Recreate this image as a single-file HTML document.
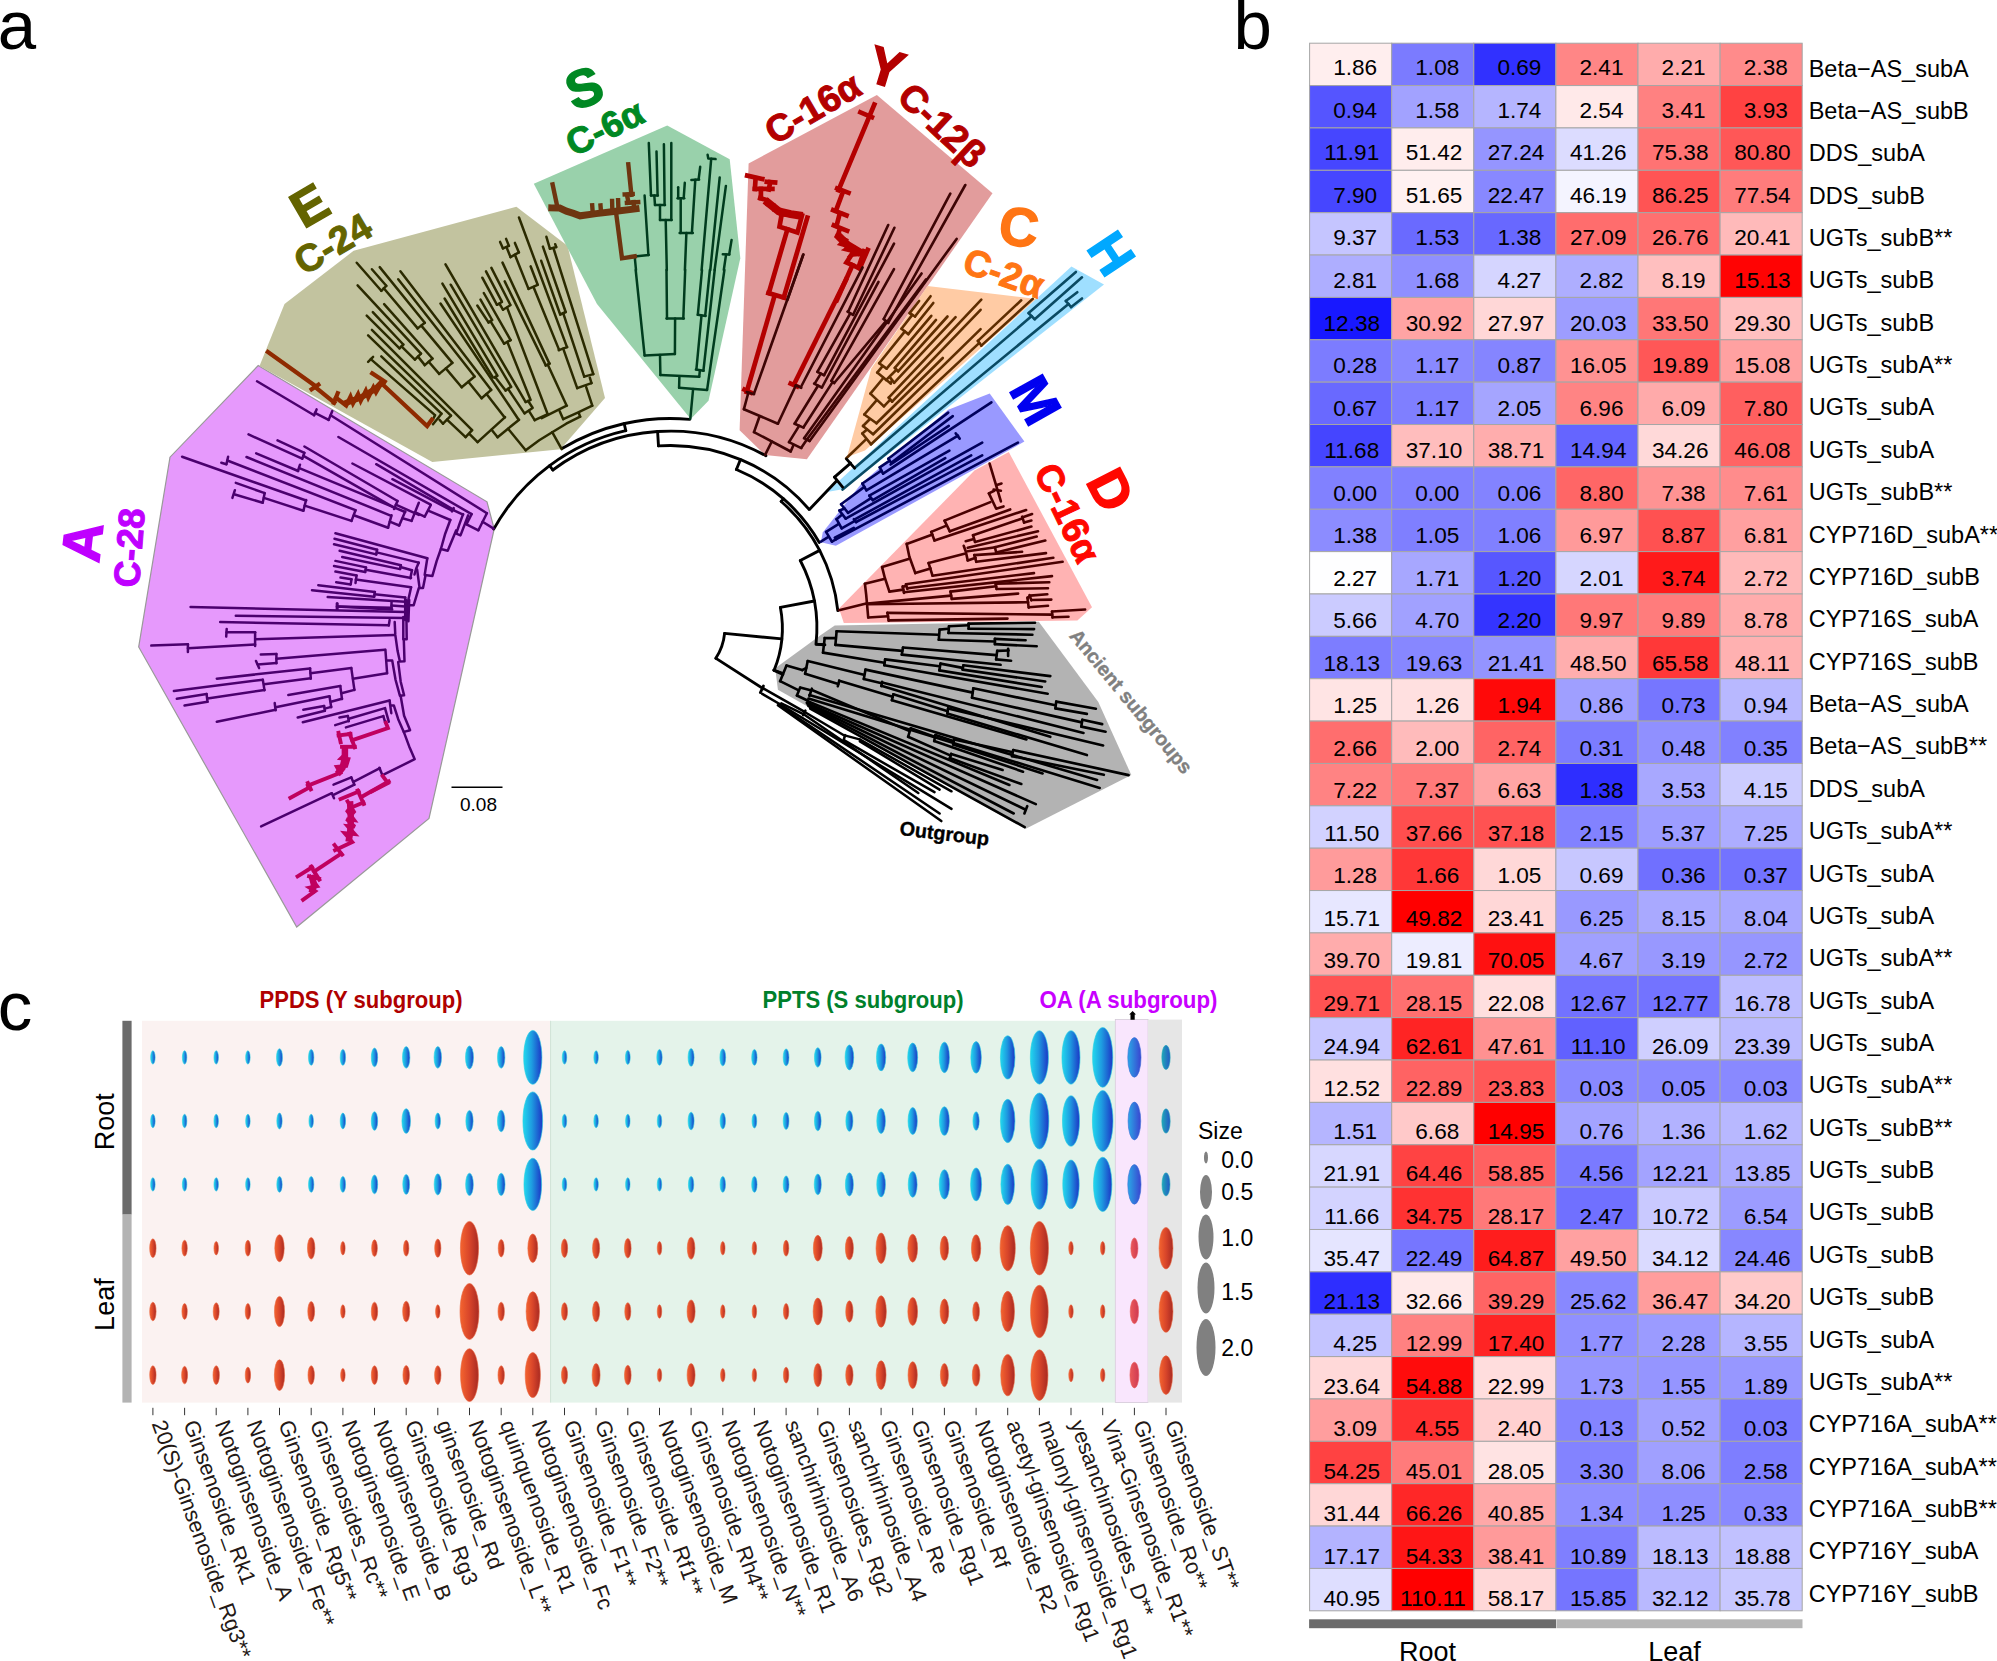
<!DOCTYPE html>
<html><head><meta charset="utf-8"><title>Figure</title>
<style>
html,body{margin:0;padding:0;background:#fff;}
svg{display:block;font-family:"Liberation Sans",sans-serif;}
</style></head><body>
<svg width="1997" height="1661" viewBox="0 0 1997 1661">
<rect width="1997" height="1661" fill="#ffffff"/>
<g id="heatmap">
<g stroke="#a6a6a6" stroke-width="1">
<rect x="1309.60" y="43.20" width="82.10" height="42.37" fill="#ffeeee"/>
<rect x="1391.70" y="43.20" width="82.10" height="42.37" fill="#7b7bff"/>
<rect x="1473.80" y="43.20" width="82.10" height="42.37" fill="#3131ff"/>
<rect x="1555.90" y="43.20" width="82.10" height="42.37" fill="#ff8686"/>
<rect x="1638.00" y="43.20" width="82.10" height="42.37" fill="#ffacac"/>
<rect x="1720.10" y="43.20" width="82.10" height="42.37" fill="#ff8b8b"/>
<rect x="1309.60" y="85.57" width="82.10" height="42.37" fill="#5555ff"/>
<rect x="1391.70" y="85.57" width="82.10" height="42.37" fill="#a2a2ff"/>
<rect x="1473.80" y="85.57" width="82.10" height="42.37" fill="#b5b5ff"/>
<rect x="1555.90" y="85.57" width="82.10" height="42.37" fill="#ffe9e9"/>
<rect x="1638.00" y="85.57" width="82.10" height="42.37" fill="#ff8181"/>
<rect x="1720.10" y="85.57" width="82.10" height="42.37" fill="#ff4242"/>
<rect x="1309.60" y="127.94" width="82.10" height="42.37" fill="#4646ff"/>
<rect x="1391.70" y="127.94" width="82.10" height="42.37" fill="#ffeded"/>
<rect x="1473.80" y="127.94" width="82.10" height="42.37" fill="#9595ff"/>
<rect x="1555.90" y="127.94" width="82.10" height="42.37" fill="#dcdcff"/>
<rect x="1638.00" y="127.94" width="82.10" height="42.37" fill="#ff7373"/>
<rect x="1720.10" y="127.94" width="82.10" height="42.37" fill="#ff5757"/>
<rect x="1309.60" y="170.30" width="82.10" height="42.37" fill="#4646ff"/>
<rect x="1391.70" y="170.30" width="82.10" height="42.37" fill="#fff1f1"/>
<rect x="1473.80" y="170.30" width="82.10" height="42.37" fill="#8888ff"/>
<rect x="1555.90" y="170.30" width="82.10" height="42.37" fill="#f4f4ff"/>
<rect x="1638.00" y="170.30" width="82.10" height="42.37" fill="#ff5454"/>
<rect x="1720.10" y="170.30" width="82.10" height="42.37" fill="#ff7c7c"/>
<rect x="1309.60" y="212.67" width="82.10" height="42.37" fill="#c5c5ff"/>
<rect x="1391.70" y="212.67" width="82.10" height="42.37" fill="#6a6aff"/>
<rect x="1473.80" y="212.67" width="82.10" height="42.37" fill="#6868ff"/>
<rect x="1555.90" y="212.67" width="82.10" height="42.37" fill="#ff6d6d"/>
<rect x="1638.00" y="212.67" width="82.10" height="42.37" fill="#ff7070"/>
<rect x="1720.10" y="212.67" width="82.10" height="42.37" fill="#ffbaba"/>
<rect x="1309.60" y="255.04" width="82.10" height="42.37" fill="#aeaeff"/>
<rect x="1391.70" y="255.04" width="82.10" height="42.37" fill="#8f8fff"/>
<rect x="1473.80" y="255.04" width="82.10" height="42.37" fill="#d5d5ff"/>
<rect x="1555.90" y="255.04" width="82.10" height="42.37" fill="#aeaeff"/>
<rect x="1638.00" y="255.04" width="82.10" height="42.37" fill="#ffbfbf"/>
<rect x="1720.10" y="255.04" width="82.10" height="42.37" fill="#ff0303"/>
<rect x="1309.60" y="297.41" width="82.10" height="42.37" fill="#1818ff"/>
<rect x="1391.70" y="297.41" width="82.10" height="42.37" fill="#ffa4a4"/>
<rect x="1473.80" y="297.41" width="82.10" height="42.37" fill="#ffd7d7"/>
<rect x="1555.90" y="297.41" width="82.10" height="42.37" fill="#9d9dff"/>
<rect x="1638.00" y="297.41" width="82.10" height="42.37" fill="#ff7777"/>
<rect x="1720.10" y="297.41" width="82.10" height="42.37" fill="#ffc0c0"/>
<rect x="1309.60" y="339.77" width="82.10" height="42.37" fill="#7c7cff"/>
<rect x="1391.70" y="339.77" width="82.10" height="42.37" fill="#8989ff"/>
<rect x="1473.80" y="339.77" width="82.10" height="42.37" fill="#8585ff"/>
<rect x="1555.90" y="339.77" width="82.10" height="42.37" fill="#ff9292"/>
<rect x="1638.00" y="339.77" width="82.10" height="42.37" fill="#ff5757"/>
<rect x="1720.10" y="339.77" width="82.10" height="42.37" fill="#ffa1a1"/>
<rect x="1309.60" y="382.14" width="82.10" height="42.37" fill="#6969ff"/>
<rect x="1391.70" y="382.14" width="82.10" height="42.37" fill="#7f7fff"/>
<rect x="1473.80" y="382.14" width="82.10" height="42.37" fill="#a5a5ff"/>
<rect x="1555.90" y="382.14" width="82.10" height="42.37" fill="#ff8484"/>
<rect x="1638.00" y="382.14" width="82.10" height="42.37" fill="#ffaaaa"/>
<rect x="1720.10" y="382.14" width="82.10" height="42.37" fill="#ff5f5f"/>
<rect x="1309.60" y="424.51" width="82.10" height="42.37" fill="#4545ff"/>
<rect x="1391.70" y="424.51" width="82.10" height="42.37" fill="#ffbdbd"/>
<rect x="1473.80" y="424.51" width="82.10" height="42.37" fill="#ffadad"/>
<rect x="1555.90" y="424.51" width="82.10" height="42.37" fill="#6565ff"/>
<rect x="1638.00" y="424.51" width="82.10" height="42.37" fill="#ffd9d9"/>
<rect x="1720.10" y="424.51" width="82.10" height="42.37" fill="#ff6464"/>
<rect x="1309.60" y="466.88" width="82.10" height="42.37" fill="#8181ff"/>
<rect x="1391.70" y="466.88" width="82.10" height="42.37" fill="#8181ff"/>
<rect x="1473.80" y="466.88" width="82.10" height="42.37" fill="#8383ff"/>
<rect x="1555.90" y="466.88" width="82.10" height="42.37" fill="#ff6666"/>
<rect x="1638.00" y="466.88" width="82.10" height="42.37" fill="#ff9393"/>
<rect x="1720.10" y="466.88" width="82.10" height="42.37" fill="#ff8c8c"/>
<rect x="1309.60" y="509.24" width="82.10" height="42.37" fill="#8c8cff"/>
<rect x="1391.70" y="509.24" width="82.10" height="42.37" fill="#7f7fff"/>
<rect x="1473.80" y="509.24" width="82.10" height="42.37" fill="#8080ff"/>
<rect x="1555.90" y="509.24" width="82.10" height="42.37" fill="#ff9a9a"/>
<rect x="1638.00" y="509.24" width="82.10" height="42.37" fill="#ff5151"/>
<rect x="1720.10" y="509.24" width="82.10" height="42.37" fill="#ffa0a0"/>
<rect x="1309.60" y="551.61" width="82.10" height="42.37" fill="#fefeff"/>
<rect x="1391.70" y="551.61" width="82.10" height="42.37" fill="#a7a7ff"/>
<rect x="1473.80" y="551.61" width="82.10" height="42.37" fill="#5757ff"/>
<rect x="1555.90" y="551.61" width="82.10" height="42.37" fill="#d6d6ff"/>
<rect x="1638.00" y="551.61" width="82.10" height="42.37" fill="#ff1a1a"/>
<rect x="1720.10" y="551.61" width="82.10" height="42.37" fill="#ffb9b9"/>
<rect x="1309.60" y="593.98" width="82.10" height="42.37" fill="#cbcbff"/>
<rect x="1391.70" y="593.98" width="82.10" height="42.37" fill="#a1a1ff"/>
<rect x="1473.80" y="593.98" width="82.10" height="42.37" fill="#3434ff"/>
<rect x="1555.90" y="593.98" width="82.10" height="42.37" fill="#ff7878"/>
<rect x="1638.00" y="593.98" width="82.10" height="42.37" fill="#ff7c7c"/>
<rect x="1720.10" y="593.98" width="82.10" height="42.37" fill="#ffacac"/>
<rect x="1309.60" y="636.35" width="82.10" height="42.37" fill="#7d7dff"/>
<rect x="1391.70" y="636.35" width="82.10" height="42.37" fill="#8787ff"/>
<rect x="1473.80" y="636.35" width="82.10" height="42.37" fill="#9494ff"/>
<rect x="1555.90" y="636.35" width="82.10" height="42.37" fill="#ffaeae"/>
<rect x="1638.00" y="636.35" width="82.10" height="42.37" fill="#ff3838"/>
<rect x="1720.10" y="636.35" width="82.10" height="42.37" fill="#ffb1b1"/>
<rect x="1309.60" y="678.71" width="82.10" height="42.37" fill="#ffe4e4"/>
<rect x="1391.70" y="678.71" width="82.10" height="42.37" fill="#ffe0e0"/>
<rect x="1473.80" y="678.71" width="82.10" height="42.37" fill="#ff0909"/>
<rect x="1555.90" y="678.71" width="82.10" height="42.37" fill="#9f9fff"/>
<rect x="1638.00" y="678.71" width="82.10" height="42.37" fill="#7676ff"/>
<rect x="1720.10" y="678.71" width="82.10" height="42.37" fill="#b8b8ff"/>
<rect x="1309.60" y="721.08" width="82.10" height="42.37" fill="#ff6e6e"/>
<rect x="1391.70" y="721.08" width="82.10" height="42.37" fill="#ffbbbb"/>
<rect x="1473.80" y="721.08" width="82.10" height="42.37" fill="#ff6464"/>
<rect x="1555.90" y="721.08" width="82.10" height="42.37" fill="#7c7cff"/>
<rect x="1638.00" y="721.08" width="82.10" height="42.37" fill="#9090ff"/>
<rect x="1720.10" y="721.08" width="82.10" height="42.37" fill="#8181ff"/>
<rect x="1309.60" y="763.45" width="82.10" height="42.37" fill="#ff8383"/>
<rect x="1391.70" y="763.45" width="82.10" height="42.37" fill="#ff7a7a"/>
<rect x="1473.80" y="763.45" width="82.10" height="42.37" fill="#ffa5a5"/>
<rect x="1555.90" y="763.45" width="82.10" height="42.37" fill="#2e2eff"/>
<rect x="1638.00" y="763.45" width="82.10" height="42.37" fill="#a8a8ff"/>
<rect x="1720.10" y="763.45" width="82.10" height="42.37" fill="#ccccff"/>
<rect x="1309.60" y="805.82" width="82.10" height="42.37" fill="#d2d2ff"/>
<rect x="1391.70" y="805.82" width="82.10" height="42.37" fill="#ff4e4e"/>
<rect x="1473.80" y="805.82" width="82.10" height="42.37" fill="#ff5252"/>
<rect x="1555.90" y="805.82" width="82.10" height="42.37" fill="#8282ff"/>
<rect x="1638.00" y="805.82" width="82.10" height="42.37" fill="#9d9dff"/>
<rect x="1720.10" y="805.82" width="82.10" height="42.37" fill="#adadff"/>
<rect x="1309.60" y="848.18" width="82.10" height="42.37" fill="#ff9b9b"/>
<rect x="1391.70" y="848.18" width="82.10" height="42.37" fill="#ff3737"/>
<rect x="1473.80" y="848.18" width="82.10" height="42.37" fill="#ffd8d8"/>
<rect x="1555.90" y="848.18" width="82.10" height="42.37" fill="#c7c7ff"/>
<rect x="1638.00" y="848.18" width="82.10" height="42.37" fill="#7070ff"/>
<rect x="1720.10" y="848.18" width="82.10" height="42.37" fill="#7373ff"/>
<rect x="1309.60" y="890.55" width="82.10" height="42.37" fill="#e7e7ff"/>
<rect x="1391.70" y="890.55" width="82.10" height="42.37" fill="#ff0000"/>
<rect x="1473.80" y="890.55" width="82.10" height="42.37" fill="#ffd7d7"/>
<rect x="1555.90" y="890.55" width="82.10" height="42.37" fill="#9999ff"/>
<rect x="1638.00" y="890.55" width="82.10" height="42.37" fill="#a9a9ff"/>
<rect x="1720.10" y="890.55" width="82.10" height="42.37" fill="#a8a8ff"/>
<rect x="1309.60" y="932.92" width="82.10" height="42.37" fill="#ffacac"/>
<rect x="1391.70" y="932.92" width="82.10" height="42.37" fill="#ededff"/>
<rect x="1473.80" y="932.92" width="82.10" height="42.37" fill="#ff1111"/>
<rect x="1555.90" y="932.92" width="82.10" height="42.37" fill="#a0a0ff"/>
<rect x="1638.00" y="932.92" width="82.10" height="42.37" fill="#9898ff"/>
<rect x="1720.10" y="932.92" width="82.10" height="42.37" fill="#9696ff"/>
<rect x="1309.60" y="975.29" width="82.10" height="42.37" fill="#ff5353"/>
<rect x="1391.70" y="975.29" width="82.10" height="42.37" fill="#ff7070"/>
<rect x="1473.80" y="975.29" width="82.10" height="42.37" fill="#ffdfdf"/>
<rect x="1555.90" y="975.29" width="82.10" height="42.37" fill="#7272ff"/>
<rect x="1638.00" y="975.29" width="82.10" height="42.37" fill="#7373ff"/>
<rect x="1720.10" y="975.29" width="82.10" height="42.37" fill="#bdbdff"/>
<rect x="1309.60" y="1017.65" width="82.10" height="42.37" fill="#c7c7ff"/>
<rect x="1391.70" y="1017.65" width="82.10" height="42.37" fill="#ff2424"/>
<rect x="1473.80" y="1017.65" width="82.10" height="42.37" fill="#ff9191"/>
<rect x="1555.90" y="1017.65" width="82.10" height="42.37" fill="#6161ff"/>
<rect x="1638.00" y="1017.65" width="82.10" height="42.37" fill="#cfcfff"/>
<rect x="1720.10" y="1017.65" width="82.10" height="42.37" fill="#bbbbff"/>
<rect x="1309.60" y="1060.02" width="82.10" height="42.37" fill="#ffe0e0"/>
<rect x="1391.70" y="1060.02" width="82.10" height="42.37" fill="#ff6363"/>
<rect x="1473.80" y="1060.02" width="82.10" height="42.37" fill="#ff5858"/>
<rect x="1555.90" y="1060.02" width="82.10" height="42.37" fill="#8989ff"/>
<rect x="1638.00" y="1060.02" width="82.10" height="42.37" fill="#8989ff"/>
<rect x="1720.10" y="1060.02" width="82.10" height="42.37" fill="#8989ff"/>
<rect x="1309.60" y="1102.39" width="82.10" height="42.37" fill="#b5b5ff"/>
<rect x="1391.70" y="1102.39" width="82.10" height="42.37" fill="#ffc9c9"/>
<rect x="1473.80" y="1102.39" width="82.10" height="42.37" fill="#ff0000"/>
<rect x="1555.90" y="1102.39" width="82.10" height="42.37" fill="#a3a3ff"/>
<rect x="1638.00" y="1102.39" width="82.10" height="42.37" fill="#b2b2ff"/>
<rect x="1720.10" y="1102.39" width="82.10" height="42.37" fill="#b8b8ff"/>
<rect x="1309.60" y="1144.76" width="82.10" height="42.37" fill="#d7d7ff"/>
<rect x="1391.70" y="1144.76" width="82.10" height="42.37" fill="#ff4343"/>
<rect x="1473.80" y="1144.76" width="82.10" height="42.37" fill="#ff6161"/>
<rect x="1555.90" y="1144.76" width="82.10" height="42.37" fill="#7a7aff"/>
<rect x="1638.00" y="1144.76" width="82.10" height="42.37" fill="#a3a3ff"/>
<rect x="1720.10" y="1144.76" width="82.10" height="42.37" fill="#acacff"/>
<rect x="1309.60" y="1187.12" width="82.10" height="42.37" fill="#d3d3ff"/>
<rect x="1391.70" y="1187.12" width="82.10" height="42.37" fill="#ff3232"/>
<rect x="1473.80" y="1187.12" width="82.10" height="42.37" fill="#ff7979"/>
<rect x="1555.90" y="1187.12" width="82.10" height="42.37" fill="#7070ff"/>
<rect x="1638.00" y="1187.12" width="82.10" height="42.37" fill="#c9c9ff"/>
<rect x="1720.10" y="1187.12" width="82.10" height="42.37" fill="#9c9cff"/>
<rect x="1309.60" y="1229.49" width="82.10" height="42.37" fill="#e5e5ff"/>
<rect x="1391.70" y="1229.49" width="82.10" height="42.37" fill="#7676ff"/>
<rect x="1473.80" y="1229.49" width="82.10" height="42.37" fill="#ff1d1d"/>
<rect x="1555.90" y="1229.49" width="82.10" height="42.37" fill="#ffa1a1"/>
<rect x="1638.00" y="1229.49" width="82.10" height="42.37" fill="#dadaff"/>
<rect x="1720.10" y="1229.49" width="82.10" height="42.37" fill="#8787ff"/>
<rect x="1309.60" y="1271.86" width="82.10" height="42.37" fill="#2e2eff"/>
<rect x="1391.70" y="1271.86" width="82.10" height="42.37" fill="#ffe9e9"/>
<rect x="1473.80" y="1271.86" width="82.10" height="42.37" fill="#ff6464"/>
<rect x="1555.90" y="1271.86" width="82.10" height="42.37" fill="#8888ff"/>
<rect x="1638.00" y="1271.86" width="82.10" height="42.37" fill="#ff9d9d"/>
<rect x="1720.10" y="1271.86" width="82.10" height="42.37" fill="#ffcaca"/>
<rect x="1309.60" y="1314.23" width="82.10" height="42.37" fill="#c4c4ff"/>
<rect x="1391.70" y="1314.23" width="82.10" height="42.37" fill="#ff8181"/>
<rect x="1473.80" y="1314.23" width="82.10" height="42.37" fill="#ff2424"/>
<rect x="1555.90" y="1314.23" width="82.10" height="42.37" fill="#9090ff"/>
<rect x="1638.00" y="1314.23" width="82.10" height="42.37" fill="#9b9bff"/>
<rect x="1720.10" y="1314.23" width="82.10" height="42.37" fill="#b5b5ff"/>
<rect x="1309.60" y="1356.59" width="82.10" height="42.37" fill="#ffd9d9"/>
<rect x="1391.70" y="1356.59" width="82.10" height="42.37" fill="#ff0c0c"/>
<rect x="1473.80" y="1356.59" width="82.10" height="42.37" fill="#ffdddd"/>
<rect x="1555.90" y="1356.59" width="82.10" height="42.37" fill="#9696ff"/>
<rect x="1638.00" y="1356.59" width="82.10" height="42.37" fill="#9595ff"/>
<rect x="1720.10" y="1356.59" width="82.10" height="42.37" fill="#9797ff"/>
<rect x="1309.60" y="1398.96" width="82.10" height="42.37" fill="#ff9e9e"/>
<rect x="1391.70" y="1398.96" width="82.10" height="42.37" fill="#ff3131"/>
<rect x="1473.80" y="1398.96" width="82.10" height="42.37" fill="#ffd1d1"/>
<rect x="1555.90" y="1398.96" width="82.10" height="42.37" fill="#8484ff"/>
<rect x="1638.00" y="1398.96" width="82.10" height="42.37" fill="#a1a1ff"/>
<rect x="1720.10" y="1398.96" width="82.10" height="42.37" fill="#7c7cff"/>
<rect x="1309.60" y="1441.33" width="82.10" height="42.37" fill="#ff4242"/>
<rect x="1391.70" y="1441.33" width="82.10" height="42.37" fill="#ff7b7b"/>
<rect x="1473.80" y="1441.33" width="82.10" height="42.37" fill="#ffe3e3"/>
<rect x="1555.90" y="1441.33" width="82.10" height="42.37" fill="#8383ff"/>
<rect x="1638.00" y="1441.33" width="82.10" height="42.37" fill="#a0a0ff"/>
<rect x="1720.10" y="1441.33" width="82.10" height="42.37" fill="#7e7eff"/>
<rect x="1309.60" y="1483.70" width="82.10" height="42.37" fill="#ffd7d7"/>
<rect x="1391.70" y="1483.70" width="82.10" height="42.37" fill="#ff2727"/>
<rect x="1473.80" y="1483.70" width="82.10" height="42.37" fill="#ffa8a8"/>
<rect x="1555.90" y="1483.70" width="82.10" height="42.37" fill="#8f8fff"/>
<rect x="1638.00" y="1483.70" width="82.10" height="42.37" fill="#8e8eff"/>
<rect x="1720.10" y="1483.70" width="82.10" height="42.37" fill="#8989ff"/>
<rect x="1309.60" y="1526.06" width="82.10" height="42.37" fill="#b3b3ff"/>
<rect x="1391.70" y="1526.06" width="82.10" height="42.37" fill="#ff1616"/>
<rect x="1473.80" y="1526.06" width="82.10" height="42.37" fill="#ff9a9a"/>
<rect x="1555.90" y="1526.06" width="82.10" height="42.37" fill="#7f7fff"/>
<rect x="1638.00" y="1526.06" width="82.10" height="42.37" fill="#bbbbff"/>
<rect x="1720.10" y="1526.06" width="82.10" height="42.37" fill="#c1c1ff"/>
<rect x="1309.60" y="1568.43" width="82.10" height="42.37" fill="#dedeff"/>
<rect x="1391.70" y="1568.43" width="82.10" height="42.37" fill="#ff0000"/>
<rect x="1473.80" y="1568.43" width="82.10" height="42.37" fill="#ffd8d8"/>
<rect x="1555.90" y="1568.43" width="82.10" height="42.37" fill="#7575ff"/>
<rect x="1638.00" y="1568.43" width="82.10" height="42.37" fill="#b9b9ff"/>
<rect x="1720.10" y="1568.43" width="82.10" height="42.37" fill="#c8c8ff"/>
</g>
<g font-size="22.6" text-anchor="middle" fill="#000">
<text x="1355.2" y="75.3">1.86</text>
<text x="1437.3" y="75.3">1.08</text>
<text x="1519.4" y="75.3">0.69</text>
<text x="1601.5" y="75.3">2.41</text>
<text x="1683.6" y="75.3">2.21</text>
<text x="1765.8" y="75.3">2.38</text>
<text x="1355.2" y="117.8">0.94</text>
<text x="1437.3" y="117.8">1.58</text>
<text x="1519.4" y="117.8">1.74</text>
<text x="1601.5" y="117.8">2.54</text>
<text x="1683.6" y="117.8">3.41</text>
<text x="1765.8" y="117.8">3.93</text>
<text x="1351.8" y="160.4">11.91</text>
<text x="1434.0" y="160.4">51.42</text>
<text x="1516.0" y="160.4">27.24</text>
<text x="1598.2" y="160.4">41.26</text>
<text x="1680.2" y="160.4">75.38</text>
<text x="1762.4" y="160.4">80.80</text>
<text x="1355.2" y="202.9">7.90</text>
<text x="1434.0" y="202.9">51.65</text>
<text x="1516.0" y="202.9">22.47</text>
<text x="1598.2" y="202.9">46.19</text>
<text x="1680.2" y="202.9">86.25</text>
<text x="1762.4" y="202.9">77.54</text>
<text x="1355.2" y="245.4">9.37</text>
<text x="1437.3" y="245.4">1.53</text>
<text x="1519.4" y="245.4">1.38</text>
<text x="1598.2" y="245.4">27.09</text>
<text x="1680.2" y="245.4">26.76</text>
<text x="1762.4" y="245.4">20.41</text>
<text x="1355.2" y="287.9">2.81</text>
<text x="1437.3" y="287.9">1.68</text>
<text x="1519.4" y="287.9">4.27</text>
<text x="1601.5" y="287.9">2.82</text>
<text x="1683.6" y="287.9">8.19</text>
<text x="1762.4" y="287.9">15.13</text>
<text x="1351.8" y="330.5">12.38</text>
<text x="1434.0" y="330.5">30.92</text>
<text x="1516.0" y="330.5">27.97</text>
<text x="1598.2" y="330.5">20.03</text>
<text x="1680.2" y="330.5">33.50</text>
<text x="1762.4" y="330.5">29.30</text>
<text x="1355.2" y="373.0">0.28</text>
<text x="1437.3" y="373.0">1.17</text>
<text x="1519.4" y="373.0">0.87</text>
<text x="1598.2" y="373.0">16.05</text>
<text x="1680.2" y="373.0">19.89</text>
<text x="1762.4" y="373.0">15.08</text>
<text x="1355.2" y="415.5">0.67</text>
<text x="1437.3" y="415.5">1.17</text>
<text x="1519.4" y="415.5">2.05</text>
<text x="1601.5" y="415.5">6.96</text>
<text x="1683.6" y="415.5">6.09</text>
<text x="1765.8" y="415.5">7.80</text>
<text x="1351.8" y="458.1">11.68</text>
<text x="1434.0" y="458.1">37.10</text>
<text x="1516.0" y="458.1">38.71</text>
<text x="1598.2" y="458.1">14.94</text>
<text x="1680.2" y="458.1">34.26</text>
<text x="1762.4" y="458.1">46.08</text>
<text x="1355.2" y="500.6">0.00</text>
<text x="1437.3" y="500.6">0.00</text>
<text x="1519.4" y="500.6">0.06</text>
<text x="1601.5" y="500.6">8.80</text>
<text x="1683.6" y="500.6">7.38</text>
<text x="1765.8" y="500.6">7.61</text>
<text x="1355.2" y="543.1">1.38</text>
<text x="1437.3" y="543.1">1.05</text>
<text x="1519.4" y="543.1">1.06</text>
<text x="1601.5" y="543.1">6.97</text>
<text x="1683.6" y="543.1">8.87</text>
<text x="1765.8" y="543.1">6.81</text>
<text x="1355.2" y="585.7">2.27</text>
<text x="1437.3" y="585.7">1.71</text>
<text x="1519.4" y="585.7">1.20</text>
<text x="1601.5" y="585.7">2.01</text>
<text x="1683.6" y="585.7">3.74</text>
<text x="1765.8" y="585.7">2.72</text>
<text x="1355.2" y="628.2">5.66</text>
<text x="1437.3" y="628.2">4.70</text>
<text x="1519.4" y="628.2">2.20</text>
<text x="1601.5" y="628.2">9.97</text>
<text x="1683.6" y="628.2">9.89</text>
<text x="1765.8" y="628.2">8.78</text>
<text x="1351.8" y="670.7">18.13</text>
<text x="1434.0" y="670.7">19.63</text>
<text x="1516.0" y="670.7">21.41</text>
<text x="1598.2" y="670.7">48.50</text>
<text x="1680.2" y="670.7">65.58</text>
<text x="1762.4" y="670.7">48.11</text>
<text x="1355.2" y="713.2">1.25</text>
<text x="1437.3" y="713.2">1.26</text>
<text x="1519.4" y="713.2">1.94</text>
<text x="1601.5" y="713.2">0.86</text>
<text x="1683.6" y="713.2">0.73</text>
<text x="1765.8" y="713.2">0.94</text>
<text x="1355.2" y="755.8">2.66</text>
<text x="1437.3" y="755.8">2.00</text>
<text x="1519.4" y="755.8">2.74</text>
<text x="1601.5" y="755.8">0.31</text>
<text x="1683.6" y="755.8">0.48</text>
<text x="1765.8" y="755.8">0.35</text>
<text x="1355.2" y="798.3">7.22</text>
<text x="1437.3" y="798.3">7.37</text>
<text x="1519.4" y="798.3">6.63</text>
<text x="1601.5" y="798.3">1.38</text>
<text x="1683.6" y="798.3">3.53</text>
<text x="1765.8" y="798.3">4.15</text>
<text x="1351.8" y="840.8">11.50</text>
<text x="1434.0" y="840.8">37.66</text>
<text x="1516.0" y="840.8">37.18</text>
<text x="1601.5" y="840.8">2.15</text>
<text x="1683.6" y="840.8">5.37</text>
<text x="1765.8" y="840.8">7.25</text>
<text x="1355.2" y="883.4">1.28</text>
<text x="1437.3" y="883.4">1.66</text>
<text x="1519.4" y="883.4">1.05</text>
<text x="1601.5" y="883.4">0.69</text>
<text x="1683.6" y="883.4">0.36</text>
<text x="1765.8" y="883.4">0.37</text>
<text x="1351.8" y="925.9">15.71</text>
<text x="1434.0" y="925.9">49.82</text>
<text x="1516.0" y="925.9">23.41</text>
<text x="1601.5" y="925.9">6.25</text>
<text x="1683.6" y="925.9">8.15</text>
<text x="1765.8" y="925.9">8.04</text>
<text x="1351.8" y="968.4">39.70</text>
<text x="1434.0" y="968.4">19.81</text>
<text x="1516.0" y="968.4">70.05</text>
<text x="1601.5" y="968.4">4.67</text>
<text x="1683.6" y="968.4">3.19</text>
<text x="1765.8" y="968.4">2.72</text>
<text x="1351.8" y="1011.0">29.71</text>
<text x="1434.0" y="1011.0">28.15</text>
<text x="1516.0" y="1011.0">22.08</text>
<text x="1598.2" y="1011.0">12.67</text>
<text x="1680.2" y="1011.0">12.77</text>
<text x="1762.4" y="1011.0">16.78</text>
<text x="1351.8" y="1053.5">24.94</text>
<text x="1434.0" y="1053.5">62.61</text>
<text x="1516.0" y="1053.5">47.61</text>
<text x="1598.2" y="1053.5">11.10</text>
<text x="1680.2" y="1053.5">26.09</text>
<text x="1762.4" y="1053.5">23.39</text>
<text x="1351.8" y="1096.0">12.52</text>
<text x="1434.0" y="1096.0">22.89</text>
<text x="1516.0" y="1096.0">23.83</text>
<text x="1601.5" y="1096.0">0.03</text>
<text x="1683.6" y="1096.0">0.05</text>
<text x="1765.8" y="1096.0">0.03</text>
<text x="1355.2" y="1138.5">1.51</text>
<text x="1437.3" y="1138.5">6.68</text>
<text x="1516.0" y="1138.5">14.95</text>
<text x="1601.5" y="1138.5">0.76</text>
<text x="1683.6" y="1138.5">1.36</text>
<text x="1765.8" y="1138.5">1.62</text>
<text x="1351.8" y="1181.1">21.91</text>
<text x="1434.0" y="1181.1">64.46</text>
<text x="1516.0" y="1181.1">58.85</text>
<text x="1601.5" y="1181.1">4.56</text>
<text x="1680.2" y="1181.1">12.21</text>
<text x="1762.4" y="1181.1">13.85</text>
<text x="1351.8" y="1223.6">11.66</text>
<text x="1434.0" y="1223.6">34.75</text>
<text x="1516.0" y="1223.6">28.17</text>
<text x="1601.5" y="1223.6">2.47</text>
<text x="1680.2" y="1223.6">10.72</text>
<text x="1765.8" y="1223.6">6.54</text>
<text x="1351.8" y="1266.1">35.47</text>
<text x="1434.0" y="1266.1">22.49</text>
<text x="1516.0" y="1266.1">64.87</text>
<text x="1598.2" y="1266.1">49.50</text>
<text x="1680.2" y="1266.1">34.12</text>
<text x="1762.4" y="1266.1">24.46</text>
<text x="1351.8" y="1308.7">21.13</text>
<text x="1434.0" y="1308.7">32.66</text>
<text x="1516.0" y="1308.7">39.29</text>
<text x="1598.2" y="1308.7">25.62</text>
<text x="1680.2" y="1308.7">36.47</text>
<text x="1762.4" y="1308.7">34.20</text>
<text x="1355.2" y="1351.2">4.25</text>
<text x="1434.0" y="1351.2">12.99</text>
<text x="1516.0" y="1351.2">17.40</text>
<text x="1601.5" y="1351.2">1.77</text>
<text x="1683.6" y="1351.2">2.28</text>
<text x="1765.8" y="1351.2">3.55</text>
<text x="1351.8" y="1393.7">23.64</text>
<text x="1434.0" y="1393.7">54.88</text>
<text x="1516.0" y="1393.7">22.99</text>
<text x="1601.5" y="1393.7">1.73</text>
<text x="1683.6" y="1393.7">1.55</text>
<text x="1765.8" y="1393.7">1.89</text>
<text x="1355.2" y="1436.3">3.09</text>
<text x="1437.3" y="1436.3">4.55</text>
<text x="1519.4" y="1436.3">2.40</text>
<text x="1601.5" y="1436.3">0.13</text>
<text x="1683.6" y="1436.3">0.52</text>
<text x="1765.8" y="1436.3">0.03</text>
<text x="1351.8" y="1478.8">54.25</text>
<text x="1434.0" y="1478.8">45.01</text>
<text x="1516.0" y="1478.8">28.05</text>
<text x="1601.5" y="1478.8">3.30</text>
<text x="1683.6" y="1478.8">8.06</text>
<text x="1765.8" y="1478.8">2.58</text>
<text x="1351.8" y="1521.3">31.44</text>
<text x="1434.0" y="1521.3">66.26</text>
<text x="1516.0" y="1521.3">40.85</text>
<text x="1601.5" y="1521.3">1.34</text>
<text x="1683.6" y="1521.3">1.25</text>
<text x="1765.8" y="1521.3">0.33</text>
<text x="1351.8" y="1563.8">17.17</text>
<text x="1434.0" y="1563.8">54.33</text>
<text x="1516.0" y="1563.8">38.41</text>
<text x="1598.2" y="1563.8">10.89</text>
<text x="1680.2" y="1563.8">18.13</text>
<text x="1762.4" y="1563.8">18.88</text>
<text x="1351.8" y="1606.4">40.95</text>
<text x="1433.0" y="1606.4">110.11</text>
<text x="1516.0" y="1606.4">58.17</text>
<text x="1598.2" y="1606.4">15.85</text>
<text x="1680.2" y="1606.4">32.12</text>
<text x="1762.4" y="1606.4">35.78</text>
</g>
<g font-size="23.5" fill="#000">
<text x="1808.7" y="76.5">Beta−AS_subA</text>
<text x="1808.7" y="118.9">Beta−AS_subB</text>
<text x="1808.7" y="161.2">DDS_subA</text>
<text x="1808.7" y="203.6">DDS_subB</text>
<text x="1808.7" y="246.0">UGTs_subB**</text>
<text x="1808.7" y="288.3">UGTs_subB</text>
<text x="1808.7" y="330.7">UGTs_subB</text>
<text x="1808.7" y="373.1">UGTs_subA**</text>
<text x="1808.7" y="415.4">UGTs_subA</text>
<text x="1808.7" y="457.8">UGTs_subA</text>
<text x="1808.7" y="500.2">UGTs_subB**</text>
<text x="1808.7" y="542.5">CYP716D_subA**</text>
<text x="1808.7" y="584.9">CYP716D_subB</text>
<text x="1808.7" y="627.3">CYP716S_subA</text>
<text x="1808.7" y="669.6">CYP716S_subB</text>
<text x="1808.7" y="712.0">Beta−AS_subA</text>
<text x="1808.7" y="754.4">Beta−AS_subB**</text>
<text x="1808.7" y="796.7">DDS_subA</text>
<text x="1808.7" y="839.1">UGTs_subA**</text>
<text x="1808.7" y="881.5">UGTs_subA</text>
<text x="1808.7" y="923.8">UGTs_subA</text>
<text x="1808.7" y="966.2">UGTs_subA**</text>
<text x="1808.7" y="1008.6">UGTs_subA</text>
<text x="1808.7" y="1050.9">UGTs_subA</text>
<text x="1808.7" y="1093.3">UGTs_subA**</text>
<text x="1808.7" y="1135.7">UGTs_subB**</text>
<text x="1808.7" y="1178.0">UGTs_subB</text>
<text x="1808.7" y="1220.4">UGTs_subB</text>
<text x="1808.7" y="1262.8">UGTs_subB</text>
<text x="1808.7" y="1305.1">UGTs_subB</text>
<text x="1808.7" y="1347.5">UGTs_subA</text>
<text x="1808.7" y="1389.9">UGTs_subA**</text>
<text x="1808.7" y="1432.2">CYP716A_subA**</text>
<text x="1808.7" y="1474.6">CYP716A_subA**</text>
<text x="1808.7" y="1517.0">CYP716A_subB**</text>
<text x="1808.7" y="1559.3">CYP716Y_subA</text>
<text x="1808.7" y="1601.7">CYP716Y_subB</text>
</g>
<rect x="1309.1" y="1619.3" width="247.1" height="8.9" fill="#6b6b6b"/>
<rect x="1556.7" y="1619.3" width="245.8" height="8.9" fill="#b5b5b5"/>
<text x="1427.6" y="1660.6" font-size="27" text-anchor="middle">Root</text>
<text x="1674.5" y="1660.6" font-size="27" text-anchor="middle">Leaf</text>
</g>
<defs>
<linearGradient id="gb" x1="0" x2="1" y1="0" y2="0"><stop offset="0" stop-color="#22d8ee"/><stop offset="0.45" stop-color="#1e9be0"/><stop offset="1" stop-color="#1c36c6"/></linearGradient>
<linearGradient id="gr" x1="0" x2="1" y1="0" y2="0"><stop offset="0" stop-color="#f4642f"/><stop offset="0.5" stop-color="#d8452a"/><stop offset="1" stop-color="#a82a22"/></linearGradient>
<linearGradient id="gp" x1="0" x2="1" y1="0" y2="0"><stop offset="0" stop-color="#2aa8e6"/><stop offset="1" stop-color="#3a44d0"/></linearGradient>
<linearGradient id="gt" x1="0" x2="1" y1="0" y2="0"><stop offset="0" stop-color="#1fa8b8"/><stop offset="1" stop-color="#2458c4"/></linearGradient>
<linearGradient id="gq" x1="0" x2="1" y1="0" y2="0"><stop offset="0" stop-color="#ea5a5a"/><stop offset="1" stop-color="#d03a52"/></linearGradient>
</defs>
<g id="bubble">
<rect x="122.4" y="1020.8" width="9.2" height="193.8" fill="#6b6b6b"/>
<rect x="122.4" y="1214.6" width="9.2" height="188.0" fill="#b3b3b3"/>
<rect x="142" y="1020.8" width="408.6" height="381.8" fill="#fbf2f1"/>
<rect x="550.6" y="1020.8" width="564.4" height="381.8" fill="#e4f3ea"/>
<rect x="1115.3" y="1019.6" width="32.8" height="383.0" fill="#f9e6fd" stroke="#d4cad8" stroke-width="0.8"/>
<rect x="1148.1" y="1019.6" width="33.9" height="383.0" fill="#e6e6e6"/>
<line x1="550.6" x2="550.6" y1="1020.8" y2="1402.6" stroke="#cfe3d6" stroke-width="1"/>
<clipPath id="cp"><rect x="142" y="1020.8" width="1040" height="381.8"/></clipPath><g clip-path="url(#cp)">
<ellipse cx="152.9" cy="1057.4" rx="2.21" ry="6.68" fill="url(#gb)" stroke="#22cfe0" stroke-width="0.6"/>
<ellipse cx="184.6" cy="1057.4" rx="2.21" ry="6.68" fill="url(#gb)" stroke="#22cfe0" stroke-width="0.6"/>
<ellipse cx="216.2" cy="1057.4" rx="2.21" ry="6.68" fill="url(#gb)" stroke="#22cfe0" stroke-width="0.6"/>
<ellipse cx="247.9" cy="1057.4" rx="2.21" ry="6.68" fill="url(#gb)" stroke="#22cfe0" stroke-width="0.6"/>
<ellipse cx="279.5" cy="1057.4" rx="2.95" ry="8.73" fill="url(#gb)" stroke="#22cfe0" stroke-width="0.6"/>
<ellipse cx="311.2" cy="1057.4" rx="2.65" ry="7.89" fill="url(#gb)" stroke="#22cfe0" stroke-width="0.6"/>
<ellipse cx="342.9" cy="1057.4" rx="2.65" ry="7.89" fill="url(#gb)" stroke="#22cfe0" stroke-width="0.6"/>
<ellipse cx="374.5" cy="1057.4" rx="3.17" ry="9.33" fill="url(#gb)" stroke="#22cfe0" stroke-width="0.6"/>
<ellipse cx="406.2" cy="1057.4" rx="3.69" ry="10.78" fill="url(#gb)" stroke="#22cfe0" stroke-width="0.6"/>
<ellipse cx="437.8" cy="1057.4" rx="3.69" ry="10.78" fill="url(#gb)" stroke="#22cfe0" stroke-width="0.6"/>
<ellipse cx="469.5" cy="1057.4" rx="3.95" ry="11.50" fill="url(#gb)" stroke="#22cfe0" stroke-width="0.6"/>
<ellipse cx="501.2" cy="1057.4" rx="3.69" ry="10.78" fill="url(#gb)" stroke="#22cfe0" stroke-width="0.6"/>
<ellipse cx="532.8" cy="1057.4" rx="9.11" ry="26.97" fill="url(#gb)" stroke="#22cfe0" stroke-width="0.6"/>
<ellipse cx="564.5" cy="1057.4" rx="2.20" ry="6.65" fill="url(#gb)" stroke="#22cfe0" stroke-width="0.6"/>
<ellipse cx="596.1" cy="1057.4" rx="2.20" ry="6.65" fill="url(#gb)" stroke="#22cfe0" stroke-width="0.6"/>
<ellipse cx="627.8" cy="1057.4" rx="2.33" ry="7.01" fill="url(#gb)" stroke="#22cfe0" stroke-width="0.6"/>
<ellipse cx="659.5" cy="1057.4" rx="2.66" ry="7.92" fill="url(#gb)" stroke="#22cfe0" stroke-width="0.6"/>
<ellipse cx="691.1" cy="1057.4" rx="2.99" ry="8.84" fill="url(#gb)" stroke="#22cfe0" stroke-width="0.6"/>
<ellipse cx="722.8" cy="1057.4" rx="2.86" ry="8.47" fill="url(#gb)" stroke="#22cfe0" stroke-width="0.6"/>
<ellipse cx="754.4" cy="1057.4" rx="2.66" ry="7.92" fill="url(#gb)" stroke="#22cfe0" stroke-width="0.6"/>
<ellipse cx="786.1" cy="1057.4" rx="2.86" ry="8.47" fill="url(#gb)" stroke="#22cfe0" stroke-width="0.6"/>
<ellipse cx="817.8" cy="1057.4" rx="3.32" ry="9.75" fill="url(#gb)" stroke="#22cfe0" stroke-width="0.6"/>
<ellipse cx="849.4" cy="1057.4" rx="4.31" ry="12.49" fill="url(#gb)" stroke="#22cfe0" stroke-width="0.6"/>
<ellipse cx="881.1" cy="1057.4" rx="4.63" ry="13.41" fill="url(#gb)" stroke="#22cfe0" stroke-width="0.6"/>
<ellipse cx="912.7" cy="1057.4" rx="4.96" ry="14.32" fill="url(#gb)" stroke="#22cfe0" stroke-width="0.6"/>
<ellipse cx="944.4" cy="1057.4" rx="5.06" ry="15.24" fill="url(#gb)" stroke="#22cfe0" stroke-width="0.6"/>
<ellipse cx="976.1" cy="1057.4" rx="5.25" ry="15.78" fill="url(#gb)" stroke="#22cfe0" stroke-width="0.6"/>
<ellipse cx="1007.7" cy="1057.4" rx="7.27" ry="21.63" fill="url(#gb)" stroke="#22cfe0" stroke-width="0.6"/>
<ellipse cx="1039.4" cy="1057.4" rx="9.03" ry="26.75" fill="url(#gb)" stroke="#22cfe0" stroke-width="0.6"/>
<ellipse cx="1071.0" cy="1057.4" rx="9.03" ry="26.75" fill="url(#gb)" stroke="#22cfe0" stroke-width="0.6"/>
<ellipse cx="1102.7" cy="1057.4" rx="10.10" ry="29.86" fill="url(#gb)" stroke="#22cfe0" stroke-width="0.6"/>
<ellipse cx="1134.4" cy="1057.4" rx="6.64" ry="19.81" fill="url(#gp)" stroke="#3a6fd8" stroke-width="0.6"/>
<ellipse cx="1166.0" cy="1057.4" rx="4.17" ry="12.13" fill="url(#gt)" stroke="#1fa8b8" stroke-width="0.6"/>
<ellipse cx="152.9" cy="1121.0" rx="2.21" ry="6.68" fill="url(#gb)" stroke="#22cfe0" stroke-width="0.6"/>
<ellipse cx="184.6" cy="1121.0" rx="2.21" ry="6.68" fill="url(#gb)" stroke="#22cfe0" stroke-width="0.6"/>
<ellipse cx="216.2" cy="1121.0" rx="2.21" ry="6.68" fill="url(#gb)" stroke="#22cfe0" stroke-width="0.6"/>
<ellipse cx="247.9" cy="1121.0" rx="2.21" ry="6.68" fill="url(#gb)" stroke="#22cfe0" stroke-width="0.6"/>
<ellipse cx="279.5" cy="1121.0" rx="2.65" ry="7.89" fill="url(#gb)" stroke="#22cfe0" stroke-width="0.6"/>
<ellipse cx="311.2" cy="1121.0" rx="2.21" ry="6.68" fill="url(#gb)" stroke="#22cfe0" stroke-width="0.6"/>
<ellipse cx="342.9" cy="1121.0" rx="2.65" ry="7.89" fill="url(#gb)" stroke="#22cfe0" stroke-width="0.6"/>
<ellipse cx="374.5" cy="1121.0" rx="3.17" ry="9.33" fill="url(#gb)" stroke="#22cfe0" stroke-width="0.6"/>
<ellipse cx="406.2" cy="1121.0" rx="4.25" ry="12.34" fill="url(#gb)" stroke="#22cfe0" stroke-width="0.6"/>
<ellipse cx="437.8" cy="1121.0" rx="2.65" ry="7.89" fill="url(#gb)" stroke="#22cfe0" stroke-width="0.6"/>
<ellipse cx="469.5" cy="1121.0" rx="3.60" ry="10.54" fill="url(#gb)" stroke="#22cfe0" stroke-width="0.6"/>
<ellipse cx="501.2" cy="1121.0" rx="3.69" ry="10.78" fill="url(#gb)" stroke="#22cfe0" stroke-width="0.6"/>
<ellipse cx="532.8" cy="1121.0" rx="9.85" ry="29.11" fill="url(#gb)" stroke="#22cfe0" stroke-width="0.6"/>
<ellipse cx="564.5" cy="1121.0" rx="2.20" ry="6.65" fill="url(#gb)" stroke="#22cfe0" stroke-width="0.6"/>
<ellipse cx="596.1" cy="1121.0" rx="2.20" ry="6.65" fill="url(#gb)" stroke="#22cfe0" stroke-width="0.6"/>
<ellipse cx="627.8" cy="1121.0" rx="2.20" ry="6.65" fill="url(#gb)" stroke="#22cfe0" stroke-width="0.6"/>
<ellipse cx="659.5" cy="1121.0" rx="2.20" ry="6.65" fill="url(#gb)" stroke="#22cfe0" stroke-width="0.6"/>
<ellipse cx="691.1" cy="1121.0" rx="2.99" ry="8.84" fill="url(#gb)" stroke="#22cfe0" stroke-width="0.6"/>
<ellipse cx="722.8" cy="1121.0" rx="2.66" ry="7.92" fill="url(#gb)" stroke="#22cfe0" stroke-width="0.6"/>
<ellipse cx="754.4" cy="1121.0" rx="2.33" ry="7.01" fill="url(#gb)" stroke="#22cfe0" stroke-width="0.6"/>
<ellipse cx="786.1" cy="1121.0" rx="2.86" ry="8.47" fill="url(#gb)" stroke="#22cfe0" stroke-width="0.6"/>
<ellipse cx="817.8" cy="1121.0" rx="3.32" ry="9.75" fill="url(#gb)" stroke="#22cfe0" stroke-width="0.6"/>
<ellipse cx="849.4" cy="1121.0" rx="3.52" ry="10.30" fill="url(#gb)" stroke="#22cfe0" stroke-width="0.6"/>
<ellipse cx="881.1" cy="1121.0" rx="4.31" ry="12.49" fill="url(#gb)" stroke="#22cfe0" stroke-width="0.6"/>
<ellipse cx="912.7" cy="1121.0" rx="4.63" ry="13.41" fill="url(#gb)" stroke="#22cfe0" stroke-width="0.6"/>
<ellipse cx="944.4" cy="1121.0" rx="4.96" ry="14.32" fill="url(#gb)" stroke="#22cfe0" stroke-width="0.6"/>
<ellipse cx="976.1" cy="1121.0" rx="3.12" ry="9.20" fill="url(#gb)" stroke="#22cfe0" stroke-width="0.6"/>
<ellipse cx="1007.7" cy="1121.0" rx="7.27" ry="21.63" fill="url(#gb)" stroke="#22cfe0" stroke-width="0.6"/>
<ellipse cx="1039.4" cy="1121.0" rx="9.47" ry="28.03" fill="url(#gb)" stroke="#22cfe0" stroke-width="0.6"/>
<ellipse cx="1071.0" cy="1121.0" rx="8.53" ry="25.29" fill="url(#gb)" stroke="#22cfe0" stroke-width="0.6"/>
<ellipse cx="1102.7" cy="1121.0" rx="10.29" ry="30.41" fill="url(#gb)" stroke="#22cfe0" stroke-width="0.6"/>
<ellipse cx="1134.4" cy="1121.0" rx="6.32" ry="18.89" fill="url(#gp)" stroke="#3a6fd8" stroke-width="0.6"/>
<ellipse cx="1166.0" cy="1121.0" rx="4.17" ry="12.13" fill="url(#gt)" stroke="#1fa8b8" stroke-width="0.6"/>
<ellipse cx="152.9" cy="1184.4" rx="2.21" ry="6.68" fill="url(#gb)" stroke="#22cfe0" stroke-width="0.6"/>
<ellipse cx="184.6" cy="1184.4" rx="2.21" ry="6.68" fill="url(#gb)" stroke="#22cfe0" stroke-width="0.6"/>
<ellipse cx="216.2" cy="1184.4" rx="2.21" ry="6.68" fill="url(#gb)" stroke="#22cfe0" stroke-width="0.6"/>
<ellipse cx="247.9" cy="1184.4" rx="2.21" ry="6.68" fill="url(#gb)" stroke="#22cfe0" stroke-width="0.6"/>
<ellipse cx="279.5" cy="1184.4" rx="2.65" ry="7.89" fill="url(#gb)" stroke="#22cfe0" stroke-width="0.6"/>
<ellipse cx="311.2" cy="1184.4" rx="2.65" ry="7.89" fill="url(#gb)" stroke="#22cfe0" stroke-width="0.6"/>
<ellipse cx="342.9" cy="1184.4" rx="2.65" ry="7.89" fill="url(#gb)" stroke="#22cfe0" stroke-width="0.6"/>
<ellipse cx="374.5" cy="1184.4" rx="3.17" ry="9.33" fill="url(#gb)" stroke="#22cfe0" stroke-width="0.6"/>
<ellipse cx="406.2" cy="1184.4" rx="3.38" ry="9.93" fill="url(#gb)" stroke="#22cfe0" stroke-width="0.6"/>
<ellipse cx="437.8" cy="1184.4" rx="3.60" ry="10.54" fill="url(#gb)" stroke="#22cfe0" stroke-width="0.6"/>
<ellipse cx="469.5" cy="1184.4" rx="3.82" ry="11.14" fill="url(#gb)" stroke="#22cfe0" stroke-width="0.6"/>
<ellipse cx="501.2" cy="1184.4" rx="3.82" ry="11.14" fill="url(#gb)" stroke="#22cfe0" stroke-width="0.6"/>
<ellipse cx="532.8" cy="1184.4" rx="8.82" ry="26.14" fill="url(#gb)" stroke="#22cfe0" stroke-width="0.6"/>
<ellipse cx="564.5" cy="1184.4" rx="2.20" ry="6.65" fill="url(#gb)" stroke="#22cfe0" stroke-width="0.6"/>
<ellipse cx="596.1" cy="1184.4" rx="2.20" ry="6.65" fill="url(#gb)" stroke="#22cfe0" stroke-width="0.6"/>
<ellipse cx="627.8" cy="1184.4" rx="2.20" ry="6.65" fill="url(#gb)" stroke="#22cfe0" stroke-width="0.6"/>
<ellipse cx="659.5" cy="1184.4" rx="2.20" ry="6.65" fill="url(#gb)" stroke="#22cfe0" stroke-width="0.6"/>
<ellipse cx="691.1" cy="1184.4" rx="2.66" ry="7.92" fill="url(#gb)" stroke="#22cfe0" stroke-width="0.6"/>
<ellipse cx="722.8" cy="1184.4" rx="2.66" ry="7.92" fill="url(#gb)" stroke="#22cfe0" stroke-width="0.6"/>
<ellipse cx="754.4" cy="1184.4" rx="2.66" ry="7.92" fill="url(#gb)" stroke="#22cfe0" stroke-width="0.6"/>
<ellipse cx="786.1" cy="1184.4" rx="2.86" ry="8.47" fill="url(#gb)" stroke="#22cfe0" stroke-width="0.6"/>
<ellipse cx="817.8" cy="1184.4" rx="3.52" ry="10.30" fill="url(#gb)" stroke="#22cfe0" stroke-width="0.6"/>
<ellipse cx="849.4" cy="1184.4" rx="3.98" ry="11.58" fill="url(#gb)" stroke="#22cfe0" stroke-width="0.6"/>
<ellipse cx="881.1" cy="1184.4" rx="4.31" ry="12.49" fill="url(#gb)" stroke="#22cfe0" stroke-width="0.6"/>
<ellipse cx="912.7" cy="1184.4" rx="4.44" ry="12.86" fill="url(#gb)" stroke="#22cfe0" stroke-width="0.6"/>
<ellipse cx="944.4" cy="1184.4" rx="5.10" ry="14.69" fill="url(#gb)" stroke="#22cfe0" stroke-width="0.6"/>
<ellipse cx="976.1" cy="1184.4" rx="5.50" ry="16.52" fill="url(#gb)" stroke="#22cfe0" stroke-width="0.6"/>
<ellipse cx="1007.7" cy="1184.4" rx="6.76" ry="20.17" fill="url(#gb)" stroke="#22cfe0" stroke-width="0.6"/>
<ellipse cx="1039.4" cy="1184.4" rx="8.40" ry="24.92" fill="url(#gb)" stroke="#22cfe0" stroke-width="0.6"/>
<ellipse cx="1071.0" cy="1184.4" rx="8.21" ry="24.37" fill="url(#gb)" stroke="#22cfe0" stroke-width="0.6"/>
<ellipse cx="1102.7" cy="1184.4" rx="9.16" ry="27.12" fill="url(#gb)" stroke="#22cfe0" stroke-width="0.6"/>
<ellipse cx="1134.4" cy="1184.4" rx="6.64" ry="19.81" fill="url(#gp)" stroke="#3a6fd8" stroke-width="0.6"/>
<ellipse cx="1166.0" cy="1184.4" rx="3.98" ry="11.58" fill="url(#gt)" stroke="#1fa8b8" stroke-width="0.6"/>
<ellipse cx="152.9" cy="1248.2" rx="3.17" ry="9.33" fill="url(#gr)" stroke="#e8623a" stroke-width="0.6"/>
<ellipse cx="184.6" cy="1248.2" rx="2.65" ry="7.89" fill="url(#gr)" stroke="#e8623a" stroke-width="0.6"/>
<ellipse cx="216.2" cy="1248.2" rx="2.21" ry="6.68" fill="url(#gr)" stroke="#e8623a" stroke-width="0.6"/>
<ellipse cx="247.9" cy="1248.2" rx="2.65" ry="7.89" fill="url(#gr)" stroke="#e8623a" stroke-width="0.6"/>
<ellipse cx="279.5" cy="1248.2" rx="4.68" ry="13.55" fill="url(#gr)" stroke="#e8623a" stroke-width="0.6"/>
<ellipse cx="311.2" cy="1248.2" rx="3.69" ry="10.78" fill="url(#gr)" stroke="#e8623a" stroke-width="0.6"/>
<ellipse cx="342.9" cy="1248.2" rx="2.21" ry="6.68" fill="url(#gr)" stroke="#e8623a" stroke-width="0.6"/>
<ellipse cx="374.5" cy="1248.2" rx="2.82" ry="8.37" fill="url(#gr)" stroke="#e8623a" stroke-width="0.6"/>
<ellipse cx="406.2" cy="1248.2" rx="2.65" ry="7.89" fill="url(#gr)" stroke="#e8623a" stroke-width="0.6"/>
<ellipse cx="437.8" cy="1248.2" rx="3.08" ry="9.09" fill="url(#gr)" stroke="#e8623a" stroke-width="0.6"/>
<ellipse cx="469.5" cy="1248.2" rx="9.05" ry="26.79" fill="url(#gr)" stroke="#e8623a" stroke-width="0.6"/>
<ellipse cx="501.2" cy="1248.2" rx="2.95" ry="8.73" fill="url(#gr)" stroke="#e8623a" stroke-width="0.6"/>
<ellipse cx="532.8" cy="1248.2" rx="4.93" ry="14.24" fill="url(#gr)" stroke="#e8623a" stroke-width="0.6"/>
<ellipse cx="564.5" cy="1248.2" rx="3.12" ry="9.20" fill="url(#gr)" stroke="#e8623a" stroke-width="0.6"/>
<ellipse cx="596.1" cy="1248.2" rx="3.52" ry="10.30" fill="url(#gr)" stroke="#e8623a" stroke-width="0.6"/>
<ellipse cx="627.8" cy="1248.2" rx="3.32" ry="9.75" fill="url(#gr)" stroke="#e8623a" stroke-width="0.6"/>
<ellipse cx="659.5" cy="1248.2" rx="2.20" ry="6.65" fill="url(#gr)" stroke="#e8623a" stroke-width="0.6"/>
<ellipse cx="691.1" cy="1248.2" rx="3.78" ry="11.03" fill="url(#gr)" stroke="#e8623a" stroke-width="0.6"/>
<ellipse cx="722.8" cy="1248.2" rx="2.20" ry="6.65" fill="url(#gr)" stroke="#e8623a" stroke-width="0.6"/>
<ellipse cx="754.4" cy="1248.2" rx="2.20" ry="6.65" fill="url(#gr)" stroke="#e8623a" stroke-width="0.6"/>
<ellipse cx="786.1" cy="1248.2" rx="2.66" ry="7.92" fill="url(#gr)" stroke="#e8623a" stroke-width="0.6"/>
<ellipse cx="817.8" cy="1248.2" rx="4.44" ry="12.86" fill="url(#gr)" stroke="#e8623a" stroke-width="0.6"/>
<ellipse cx="849.4" cy="1248.2" rx="3.98" ry="11.58" fill="url(#gr)" stroke="#e8623a" stroke-width="0.6"/>
<ellipse cx="881.1" cy="1248.2" rx="5.06" ry="15.24" fill="url(#gr)" stroke="#e8623a" stroke-width="0.6"/>
<ellipse cx="912.7" cy="1248.2" rx="4.83" ry="13.96" fill="url(#gr)" stroke="#e8623a" stroke-width="0.6"/>
<ellipse cx="944.4" cy="1248.2" rx="4.17" ry="12.13" fill="url(#gr)" stroke="#e8623a" stroke-width="0.6"/>
<ellipse cx="976.1" cy="1248.2" rx="4.63" ry="13.41" fill="url(#gr)" stroke="#e8623a" stroke-width="0.6"/>
<ellipse cx="1007.7" cy="1248.2" rx="7.58" ry="22.55" fill="url(#gr)" stroke="#e8623a" stroke-width="0.6"/>
<ellipse cx="1039.4" cy="1248.2" rx="9.03" ry="26.75" fill="url(#gr)" stroke="#e8623a" stroke-width="0.6"/>
<ellipse cx="1071.0" cy="1248.2" rx="2.20" ry="6.65" fill="url(#gr)" stroke="#e8623a" stroke-width="0.6"/>
<ellipse cx="1102.7" cy="1248.2" rx="2.20" ry="6.65" fill="url(#gr)" stroke="#e8623a" stroke-width="0.6"/>
<ellipse cx="1134.4" cy="1248.2" rx="3.52" ry="10.30" fill="url(#gq)" stroke="#e85a5a" stroke-width="0.6"/>
<ellipse cx="1166.0" cy="1248.2" rx="6.95" ry="20.72" fill="url(#gr)" stroke="#e8623a" stroke-width="0.6"/>
<ellipse cx="152.9" cy="1311.5" rx="3.17" ry="9.33" fill="url(#gr)" stroke="#e8623a" stroke-width="0.6"/>
<ellipse cx="184.6" cy="1311.5" rx="2.65" ry="7.89" fill="url(#gr)" stroke="#e8623a" stroke-width="0.6"/>
<ellipse cx="216.2" cy="1311.5" rx="2.95" ry="8.73" fill="url(#gr)" stroke="#e8623a" stroke-width="0.6"/>
<ellipse cx="247.9" cy="1311.5" rx="2.65" ry="7.89" fill="url(#gr)" stroke="#e8623a" stroke-width="0.6"/>
<ellipse cx="279.5" cy="1311.5" rx="5.02" ry="15.11" fill="url(#gr)" stroke="#e8623a" stroke-width="0.6"/>
<ellipse cx="311.2" cy="1311.5" rx="3.38" ry="9.93" fill="url(#gr)" stroke="#e8623a" stroke-width="0.6"/>
<ellipse cx="342.9" cy="1311.5" rx="2.21" ry="6.68" fill="url(#gr)" stroke="#e8623a" stroke-width="0.6"/>
<ellipse cx="374.5" cy="1311.5" rx="3.17" ry="9.33" fill="url(#gr)" stroke="#e8623a" stroke-width="0.6"/>
<ellipse cx="406.2" cy="1311.5" rx="3.51" ry="10.30" fill="url(#gr)" stroke="#e8623a" stroke-width="0.6"/>
<ellipse cx="437.8" cy="1311.5" rx="2.21" ry="6.68" fill="url(#gr)" stroke="#e8623a" stroke-width="0.6"/>
<ellipse cx="469.5" cy="1311.5" rx="9.46" ry="28.00" fill="url(#gr)" stroke="#e8623a" stroke-width="0.6"/>
<ellipse cx="501.2" cy="1311.5" rx="3.17" ry="9.33" fill="url(#gr)" stroke="#e8623a" stroke-width="0.6"/>
<ellipse cx="532.8" cy="1311.5" rx="6.66" ry="19.86" fill="url(#gr)" stroke="#e8623a" stroke-width="0.6"/>
<ellipse cx="564.5" cy="1311.5" rx="2.99" ry="8.84" fill="url(#gr)" stroke="#e8623a" stroke-width="0.6"/>
<ellipse cx="596.1" cy="1311.5" rx="3.52" ry="10.30" fill="url(#gr)" stroke="#e8623a" stroke-width="0.6"/>
<ellipse cx="627.8" cy="1311.5" rx="2.99" ry="8.84" fill="url(#gr)" stroke="#e8623a" stroke-width="0.6"/>
<ellipse cx="659.5" cy="1311.5" rx="2.20" ry="6.65" fill="url(#gr)" stroke="#e8623a" stroke-width="0.6"/>
<ellipse cx="691.1" cy="1311.5" rx="3.98" ry="11.58" fill="url(#gr)" stroke="#e8623a" stroke-width="0.6"/>
<ellipse cx="722.8" cy="1311.5" rx="2.20" ry="6.65" fill="url(#gr)" stroke="#e8623a" stroke-width="0.6"/>
<ellipse cx="754.4" cy="1311.5" rx="2.20" ry="6.65" fill="url(#gr)" stroke="#e8623a" stroke-width="0.6"/>
<ellipse cx="786.1" cy="1311.5" rx="2.66" ry="7.92" fill="url(#gr)" stroke="#e8623a" stroke-width="0.6"/>
<ellipse cx="817.8" cy="1311.5" rx="4.63" ry="13.41" fill="url(#gr)" stroke="#e8623a" stroke-width="0.6"/>
<ellipse cx="849.4" cy="1311.5" rx="3.65" ry="10.67" fill="url(#gr)" stroke="#e8623a" stroke-width="0.6"/>
<ellipse cx="881.1" cy="1311.5" rx="5.25" ry="15.78" fill="url(#gr)" stroke="#e8623a" stroke-width="0.6"/>
<ellipse cx="912.7" cy="1311.5" rx="4.83" ry="13.96" fill="url(#gr)" stroke="#e8623a" stroke-width="0.6"/>
<ellipse cx="944.4" cy="1311.5" rx="4.31" ry="12.49" fill="url(#gr)" stroke="#e8623a" stroke-width="0.6"/>
<ellipse cx="976.1" cy="1311.5" rx="3.32" ry="9.75" fill="url(#gr)" stroke="#e8623a" stroke-width="0.6"/>
<ellipse cx="1007.7" cy="1311.5" rx="6.76" ry="20.17" fill="url(#gr)" stroke="#e8623a" stroke-width="0.6"/>
<ellipse cx="1039.4" cy="1311.5" rx="8.84" ry="26.20" fill="url(#gr)" stroke="#e8623a" stroke-width="0.6"/>
<ellipse cx="1071.0" cy="1311.5" rx="2.20" ry="6.65" fill="url(#gr)" stroke="#e8623a" stroke-width="0.6"/>
<ellipse cx="1102.7" cy="1311.5" rx="2.20" ry="6.65" fill="url(#gr)" stroke="#e8623a" stroke-width="0.6"/>
<ellipse cx="1134.4" cy="1311.5" rx="4.17" ry="12.13" fill="url(#gq)" stroke="#e85a5a" stroke-width="0.6"/>
<ellipse cx="1166.0" cy="1311.5" rx="6.95" ry="20.72" fill="url(#gr)" stroke="#e8623a" stroke-width="0.6"/>
<ellipse cx="152.9" cy="1375.1" rx="3.17" ry="9.33" fill="url(#gr)" stroke="#e8623a" stroke-width="0.6"/>
<ellipse cx="184.6" cy="1375.1" rx="2.95" ry="8.73" fill="url(#gr)" stroke="#e8623a" stroke-width="0.6"/>
<ellipse cx="216.2" cy="1375.1" rx="3.17" ry="9.33" fill="url(#gr)" stroke="#e8623a" stroke-width="0.6"/>
<ellipse cx="247.9" cy="1375.1" rx="2.65" ry="7.89" fill="url(#gr)" stroke="#e8623a" stroke-width="0.6"/>
<ellipse cx="279.5" cy="1375.1" rx="5.10" ry="15.35" fill="url(#gr)" stroke="#e8623a" stroke-width="0.6"/>
<ellipse cx="311.2" cy="1375.1" rx="3.17" ry="9.33" fill="url(#gr)" stroke="#e8623a" stroke-width="0.6"/>
<ellipse cx="342.9" cy="1375.1" rx="2.21" ry="6.68" fill="url(#gr)" stroke="#e8623a" stroke-width="0.6"/>
<ellipse cx="374.5" cy="1375.1" rx="3.17" ry="9.33" fill="url(#gr)" stroke="#e8623a" stroke-width="0.6"/>
<ellipse cx="406.2" cy="1375.1" rx="3.25" ry="9.57" fill="url(#gr)" stroke="#e8623a" stroke-width="0.6"/>
<ellipse cx="437.8" cy="1375.1" rx="3.17" ry="9.33" fill="url(#gr)" stroke="#e8623a" stroke-width="0.6"/>
<ellipse cx="469.5" cy="1375.1" rx="8.92" ry="26.43" fill="url(#gr)" stroke="#e8623a" stroke-width="0.6"/>
<ellipse cx="501.2" cy="1375.1" rx="3.17" ry="9.33" fill="url(#gr)" stroke="#e8623a" stroke-width="0.6"/>
<ellipse cx="532.8" cy="1375.1" rx="7.57" ry="22.50" fill="url(#gr)" stroke="#e8623a" stroke-width="0.6"/>
<ellipse cx="564.5" cy="1375.1" rx="2.99" ry="8.84" fill="url(#gr)" stroke="#e8623a" stroke-width="0.6"/>
<ellipse cx="596.1" cy="1375.1" rx="3.98" ry="11.58" fill="url(#gr)" stroke="#e8623a" stroke-width="0.6"/>
<ellipse cx="627.8" cy="1375.1" rx="3.32" ry="9.75" fill="url(#gr)" stroke="#e8623a" stroke-width="0.6"/>
<ellipse cx="659.5" cy="1375.1" rx="2.20" ry="6.65" fill="url(#gr)" stroke="#e8623a" stroke-width="0.6"/>
<ellipse cx="691.1" cy="1375.1" rx="3.98" ry="11.58" fill="url(#gr)" stroke="#e8623a" stroke-width="0.6"/>
<ellipse cx="722.8" cy="1375.1" rx="2.20" ry="6.65" fill="url(#gr)" stroke="#e8623a" stroke-width="0.6"/>
<ellipse cx="754.4" cy="1375.1" rx="2.20" ry="6.65" fill="url(#gr)" stroke="#e8623a" stroke-width="0.6"/>
<ellipse cx="786.1" cy="1375.1" rx="2.66" ry="7.92" fill="url(#gr)" stroke="#e8623a" stroke-width="0.6"/>
<ellipse cx="817.8" cy="1375.1" rx="3.98" ry="11.58" fill="url(#gr)" stroke="#e8623a" stroke-width="0.6"/>
<ellipse cx="849.4" cy="1375.1" rx="3.65" ry="10.67" fill="url(#gr)" stroke="#e8623a" stroke-width="0.6"/>
<ellipse cx="881.1" cy="1375.1" rx="4.96" ry="14.32" fill="url(#gr)" stroke="#e8623a" stroke-width="0.6"/>
<ellipse cx="912.7" cy="1375.1" rx="4.63" ry="13.41" fill="url(#gr)" stroke="#e8623a" stroke-width="0.6"/>
<ellipse cx="944.4" cy="1375.1" rx="3.98" ry="11.58" fill="url(#gr)" stroke="#e8623a" stroke-width="0.6"/>
<ellipse cx="976.1" cy="1375.1" rx="3.78" ry="11.03" fill="url(#gr)" stroke="#e8623a" stroke-width="0.6"/>
<ellipse cx="1007.7" cy="1375.1" rx="6.95" ry="20.72" fill="url(#gr)" stroke="#e8623a" stroke-width="0.6"/>
<ellipse cx="1039.4" cy="1375.1" rx="8.53" ry="25.29" fill="url(#gr)" stroke="#e8623a" stroke-width="0.6"/>
<ellipse cx="1071.0" cy="1375.1" rx="2.20" ry="6.65" fill="url(#gr)" stroke="#e8623a" stroke-width="0.6"/>
<ellipse cx="1102.7" cy="1375.1" rx="2.20" ry="6.65" fill="url(#gr)" stroke="#e8623a" stroke-width="0.6"/>
<ellipse cx="1134.4" cy="1375.1" rx="4.44" ry="12.86" fill="url(#gq)" stroke="#e85a5a" stroke-width="0.6"/>
<ellipse cx="1166.0" cy="1375.1" rx="6.51" ry="19.44" fill="url(#gr)" stroke="#e8623a" stroke-width="0.6"/>
</g>
<g stroke="#333" stroke-width="1">
<line x1="152.9" x2="152.9" y1="1407.8" y2="1415.2"/>
<line x1="184.6" x2="184.6" y1="1407.8" y2="1415.2"/>
<line x1="216.2" x2="216.2" y1="1407.8" y2="1415.2"/>
<line x1="247.9" x2="247.9" y1="1407.8" y2="1415.2"/>
<line x1="279.5" x2="279.5" y1="1407.8" y2="1415.2"/>
<line x1="311.2" x2="311.2" y1="1407.8" y2="1415.2"/>
<line x1="342.9" x2="342.9" y1="1407.8" y2="1415.2"/>
<line x1="374.5" x2="374.5" y1="1407.8" y2="1415.2"/>
<line x1="406.2" x2="406.2" y1="1407.8" y2="1415.2"/>
<line x1="437.8" x2="437.8" y1="1407.8" y2="1415.2"/>
<line x1="469.5" x2="469.5" y1="1407.8" y2="1415.2"/>
<line x1="501.2" x2="501.2" y1="1407.8" y2="1415.2"/>
<line x1="532.8" x2="532.8" y1="1407.8" y2="1415.2"/>
<line x1="564.5" x2="564.5" y1="1407.8" y2="1415.2"/>
<line x1="596.1" x2="596.1" y1="1407.8" y2="1415.2"/>
<line x1="627.8" x2="627.8" y1="1407.8" y2="1415.2"/>
<line x1="659.5" x2="659.5" y1="1407.8" y2="1415.2"/>
<line x1="691.1" x2="691.1" y1="1407.8" y2="1415.2"/>
<line x1="722.8" x2="722.8" y1="1407.8" y2="1415.2"/>
<line x1="754.4" x2="754.4" y1="1407.8" y2="1415.2"/>
<line x1="786.1" x2="786.1" y1="1407.8" y2="1415.2"/>
<line x1="817.8" x2="817.8" y1="1407.8" y2="1415.2"/>
<line x1="849.4" x2="849.4" y1="1407.8" y2="1415.2"/>
<line x1="881.1" x2="881.1" y1="1407.8" y2="1415.2"/>
<line x1="912.7" x2="912.7" y1="1407.8" y2="1415.2"/>
<line x1="944.4" x2="944.4" y1="1407.8" y2="1415.2"/>
<line x1="976.1" x2="976.1" y1="1407.8" y2="1415.2"/>
<line x1="1007.7" x2="1007.7" y1="1407.8" y2="1415.2"/>
<line x1="1039.4" x2="1039.4" y1="1407.8" y2="1415.2"/>
<line x1="1071.0" x2="1071.0" y1="1407.8" y2="1415.2"/>
<line x1="1102.7" x2="1102.7" y1="1407.8" y2="1415.2"/>
<line x1="1134.4" x2="1134.4" y1="1407.8" y2="1415.2"/>
<line x1="1166.0" x2="1166.0" y1="1407.8" y2="1415.2"/>
</g>
<g font-size="21.9" fill="#231815">
<text transform="translate(158.5,1421) rotate(70)" x="0" y="7.4">20(S)-Ginsenoside_Rg3**</text>
<text transform="translate(190.2,1421) rotate(70)" x="0" y="7.4">Ginsenoside_Rk1</text>
<text transform="translate(221.8,1421) rotate(70)" x="0" y="7.4">Notoginsenoside_A</text>
<text transform="translate(253.5,1421) rotate(70)" x="0" y="7.4">Notoginsenoside_Fe**</text>
<text transform="translate(285.1,1421) rotate(70)" x="0" y="7.4">Ginsenoside_Rg5**</text>
<text transform="translate(316.8,1421) rotate(70)" x="0" y="7.4">Ginsenosides_Rc**</text>
<text transform="translate(348.5,1421) rotate(70)" x="0" y="7.4">Notoginsenoside_E</text>
<text transform="translate(380.1,1421) rotate(70)" x="0" y="7.4">Notoginsenoside_B</text>
<text transform="translate(411.8,1421) rotate(70)" x="0" y="7.4">Ginsenoside_Rg3</text>
<text transform="translate(443.4,1421) rotate(70)" x="0" y="7.4">ginsenoside_Rd</text>
<text transform="translate(475.1,1421) rotate(70)" x="0" y="7.4">Notoginsenoside_L**</text>
<text transform="translate(506.8,1421) rotate(70)" x="0" y="7.4">quinquenoside_R1</text>
<text transform="translate(538.4,1421) rotate(70)" x="0" y="7.4">Notoginsenoside_Fc</text>
<text transform="translate(570.1,1421) rotate(70)" x="0" y="7.4">Ginsenoside_F1**</text>
<text transform="translate(601.7,1421) rotate(70)" x="0" y="7.4">Ginsenoside_F2**</text>
<text transform="translate(633.4,1421) rotate(70)" x="0" y="7.4">Ginsenoside_Rf1**</text>
<text transform="translate(665.1,1421) rotate(70)" x="0" y="7.4">Notoginsenoside_M</text>
<text transform="translate(696.7,1421) rotate(70)" x="0" y="7.4">Ginsenoside_Rh4**</text>
<text transform="translate(728.4,1421) rotate(70)" x="0" y="7.4">Notoginsenoside_N**</text>
<text transform="translate(760.0,1421) rotate(70)" x="0" y="7.4">Notoginsenoside_R1</text>
<text transform="translate(791.7,1421) rotate(70)" x="0" y="7.4">sanchirhinoside_A6</text>
<text transform="translate(823.4,1421) rotate(70)" x="0" y="7.4">Ginsenosides_Rg2</text>
<text transform="translate(855.0,1421) rotate(70)" x="0" y="7.4">sanchirhinoside_A4</text>
<text transform="translate(886.7,1421) rotate(70)" x="0" y="7.4">Ginsenoside_Re</text>
<text transform="translate(918.3,1421) rotate(70)" x="0" y="7.4">Ginsenoside_Rg1</text>
<text transform="translate(950.0,1421) rotate(70)" x="0" y="7.4">Ginsenoside_Rf</text>
<text transform="translate(981.7,1421) rotate(70)" x="0" y="7.4">Notoginsenoside_R2</text>
<text transform="translate(1013.3,1421) rotate(70)" x="0" y="7.4">acetyl-ginsenoside_Rg1</text>
<text transform="translate(1045.0,1421) rotate(70)" x="0" y="7.4">malonyl-ginsenoside_Rg1</text>
<text transform="translate(1076.6,1421) rotate(70)" x="0" y="7.4">yesanchinosides_D**</text>
<text transform="translate(1108.3,1421) rotate(70)" x="0" y="7.4">Vina-Ginsenoside_R1**</text>
<text transform="translate(1140.0,1421) rotate(70)" x="0" y="7.4">Ginsenoside_Ro**</text>
<text transform="translate(1171.6,1421) rotate(70)" x="0" y="7.4">Ginsenoside_ST**</text>
</g>
<text transform="translate(113.5,1121.7) rotate(-90)" font-size="27" text-anchor="middle" x="0" y="0">Root</text>
<text transform="translate(113.5,1304.6) rotate(-90)" font-size="27" text-anchor="middle" x="0" y="0">Leaf</text>
<g font-weight="bold" font-size="24.5" text-anchor="middle">
<text x="361" y="1007.5" fill="#b00000" textLength="203" lengthAdjust="spacingAndGlyphs">PPDS (Y subgroup)</text>
<text x="863" y="1007.5" fill="#00802b" textLength="201" lengthAdjust="spacingAndGlyphs">PPTS (S subgroup)</text>
<text x="1128.5" y="1007.5" fill="#c800ff" textLength="178" lengthAdjust="spacingAndGlyphs">OA (A subgroup)</text>
</g>
<path d="M1132.6 1011 l3.4 3.6 h-1.3 v5.2 h-4.2 v-5.2 h-1.3 z" fill="#000"/>
<text x="1198" y="1139.2" font-size="23">Size</text>
<ellipse cx="1206" cy="1157.4" rx="2.0" ry="6.0" fill="#808080"/>
<text x="1221.3" y="1168.2" font-size="23">0.0</text>
<ellipse cx="1206" cy="1192.0" rx="6.0" ry="17.0" fill="#808080"/>
<text x="1221.3" y="1199.6" font-size="23">0.5</text>
<ellipse cx="1206" cy="1237.0" rx="7.5" ry="22.5" fill="#808080"/>
<text x="1221.3" y="1246.0" font-size="23">1.0</text>
<ellipse cx="1206" cy="1288.0" rx="8.5" ry="25.5" fill="#808080"/>
<text x="1221.3" y="1300.1" font-size="23">1.5</text>
<ellipse cx="1206" cy="1347.5" rx="9.5" ry="28.5" fill="#808080"/>
<text x="1221.3" y="1356.4" font-size="23">2.0</text>
</g>
<text x="-2.35" y="48.9" font-size="69">a</text>
<text x="1233.5" y="48.9" font-size="69">b</text>
<text x="-2.35" y="1030.3" font-size="69">c</text>
<g id="tree">
<polygon points="258.2,365.6 487.0,501.8 494.2,529.0 429.0,818.5 296.7,927.0 138.7,647.0 170.0,457.2" fill="#e699fc" stroke="#999999" stroke-width="1.2"/>
<polygon points="259.5,366.0 284.5,304.0 353.6,250.8 516.4,206.7 567.5,245.7 605.0,398.0 560.5,449.3 432.3,462.0" fill="#c2c39f"/>
<polygon points="533.8,183.8 667.2,125.5 729.7,159.2 740.3,258.3 708.5,400.8 690.7,419.0 597.0,304.0" fill="#99d1ab"/>
<polygon points="748.6,163.5 876.9,95.0 992.5,193.3 806.9,459.2 765.0,454.9 739.6,430.3" fill="#e29c9c"/>
<polygon points="927.5,286.0 1036.5,299.0 865.0,450.5 847.0,457.0 871.3,368.5" fill="#ffcba4"/>
<polygon points="989.7,393.6 1024.4,441.6 835.9,545.7 820.9,542.2 822.7,532.4 861.8,482.9 948.2,409.8" fill="#9999ff"/>
<polygon points="827.0,492.0 1071.4,266.5 1104.0,284.6 844.0,489.0" fill="#9fdfff"/>
<polygon points="1008.8,452.0 1092.0,607.3 1077.4,620.5 843.8,623.0 839.0,608.5 974.5,470.5" fill="#ffb3b3"/>
<polygon points="834.7,625.4 1038.8,621.7 1098.3,702.0 1131.3,775.0 1025.3,829.0 777.9,689.8 775.2,668.2 819.8,635.7" fill="#b3b3b3"/>
<g fill="none" stroke="#000" stroke-width="2.88" stroke-linecap="round" stroke-linejoin="round">
<path d="M493.7,529.1 A202.5,202.5 0 0 1 625.8,430.7"/>
<path d="M562.0,448.6 A209.7,209.7 0 0 1 689.7,419.4"/>
<path d="M552.8,470.0 A197.1,197.1 0 0 1 765.9,455.8"/>
<path d="M658.5,445.9 A182.7,182.7 0 0 1 809.2,509.5"/>
<path d="M736.4,469.5 A171.9,171.9 0 0 1 819.3,542.5"/>
<path d="M781.2,501.5 A168.4,168.4 0 0 1 837.8,610.6"/>
<path d="M800.3,560.5 A146.6,146.6 0 0 1 816.0,644.3"/>
<path d="M780.4,607.4 A112.0,112.0 0 0 1 774.1,670.3"/>
<path d="M724.6,633.4 A54.6,54.6 0 0 1 715.8,658.3"/>
<path d="M625.8,430.7 L624.2,423.6"/>
<path d="M552.8,470.0 L549.6,465.6"/>
<path d="M658.5,445.9 L657.6,431.5"/>
<path d="M736.4,469.5 L740.5,459.5"/>
<path d="M781.2,501.5 L783.5,498.9"/>
<path d="M800.3,560.5 L819.7,550.4"/>
<path d="M780.4,607.4 L814.4,601.0"/>
<path d="M724.6,633.4 L781.8,638.9"/>
</g>
<g fill="none" stroke="#4b006e" stroke-width="2.50" stroke-linecap="round" stroke-linejoin="round" stroke-miterlimit="3">
<polyline points="257.0,381.3 314.1,415.3"/>
<polyline points="314.1,415.3 316.6,409.4"/>
<polyline points="314.9,412.8 328.6,419.9"/>
<polyline points="328.6,419.9 332.3,411.1"/>
<polyline points="330.6,415.3 486.9,513.2"/>
<polyline points="486.9,513.2 478.4,530.3"/>
<polyline points="338.4,437.0 471.6,514.1"/>
<polyline points="471.6,514.1 466.5,524.3"/>
<polyline points="466.5,524.3 478.4,530.3"/>
<polyline points="482.6,521.7 493.7,528.6"/>
<polyline points="376.2,464.2 453.7,509.8"/>
<polyline points="392.4,479.2 452.0,510.7"/>
<polyline points="453.7,508.1 452.0,511.5"/>
<polyline points="452.8,509.8 463.1,514.6"/>
<polyline points="463.1,514.1 459.7,523.4 456.2,533.7 460.5,535.4 468.2,515.3"/>
<polyline points="352.4,463.5 430.7,504.7"/>
<polyline points="304.4,446.5 397.5,501.0"/>
<polyline points="303.4,455.9 395.0,508.1"/>
<polyline points="248.5,434.4 302.2,458.7"/>
<polyline points="277.5,440.4 304.4,452.8"/>
<polyline points="304.4,452.8 302.2,458.7"/>
<polyline points="397.5,501.0 394.1,509.0"/>
<polyline points="395.8,504.7 418.8,514.9"/>
<polyline points="256.2,453.3 298.2,471.0"/>
<polyline points="300.0,464.7 297.9,471.0"/>
<polyline points="299.3,468.1 405.2,512.0"/>
<polyline points="246.5,457.0 391.2,515.8"/>
<polyline points="227.3,460.5 355.5,510.2"/>
<polyline points="228.1,456.7 226.4,464.2"/>
<polyline points="221.3,462.7 226.4,464.2"/>
<polyline points="182.1,456.7 306.1,500.5"/>
<polyline points="235.8,482.9 264.7,493.1"/>
<polyline points="234.9,494.5 262.7,502.7"/>
<polyline points="234.9,490.2 232.4,497.9"/>
<polyline points="264.7,493.1 262.7,502.7"/>
<polyline points="263.9,497.9 303.4,510.7"/>
<polyline points="306.1,500.0 303.4,510.7"/>
<polyline points="304.7,505.6 351.5,520.9"/>
<polyline points="355.5,510.2 351.5,520.9"/>
<polyline points="353.8,515.3 388.1,527.7"/>
<polyline points="391.5,515.3 388.1,527.7"/>
<polyline points="389.8,521.7 399.2,525.5"/>
<polyline points="405.2,511.5 399.2,525.5"/>
<polyline points="402.6,518.3 411.6,520.9"/>
<polyline points="418.8,502.7 411.6,520.9"/>
<polyline points="415.4,512.4 424.7,516.6"/>
<polyline points="430.7,505.1 424.7,516.6"/>
<polyline points="428.2,510.7 450.3,520.0"/>
<polyline points="450.3,520.0 445.2,533.7 440.9,549.0 447.7,550.7 456.2,530.3"/>
<polyline points="440.9,549.0 436.7,560.9 432.4,575.9 424.7,574.9 427.3,558.3"/>
<polyline points="335.4,533.3 427.3,558.3"/>
<polyline points="334.5,538.8 377.1,549.8"/>
<polyline points="334.0,544.2 376.2,554.4"/>
<polyline points="377.1,549.8 376.2,554.4"/>
<polyline points="376.7,552.4 418.8,562.6"/>
<polyline points="339.6,550.7 400.9,565.2"/>
<polyline points="342.2,557.0 400.1,569.1"/>
<polyline points="400.9,565.2 400.1,569.1"/>
<polyline points="400.4,567.0 412.0,570.3"/>
<polyline points="335.4,560.9 366.0,567.4"/>
<polyline points="334.0,566.0 365.2,572.0"/>
<polyline points="366.0,567.4 365.2,572.0"/>
<polyline points="365.7,569.8 411.1,577.9"/>
<polyline points="335.4,571.6 356.6,575.4"/>
<polyline points="340.5,577.6 351.5,579.3"/>
<polyline points="336.2,582.2 350.7,584.4"/>
<polyline points="351.5,579.3 350.7,584.4"/>
<polyline points="356.6,575.4 355.5,583.0"/>
<polyline points="355.8,579.6 411.1,587.3"/>
<polyline points="318.3,585.2 374.9,591.9"/>
<polyline points="312.0,590.2 374.2,596.7"/>
<polyline points="374.9,591.9 374.2,596.7"/>
<polyline points="374.5,594.3 405.2,597.5"/>
<polyline points="327.7,597.0 405.2,601.8"/>
<polyline points="337.4,603.5 337.4,609.4"/>
<polyline points="337.4,606.5 391.5,607.7"/>
<polyline points="391.5,602.6 391.5,608.6"/>
<polyline points="391.5,605.5 405.2,606.4"/>
<polyline points="190.6,606.9 405.2,612.0"/>
<polyline points="235.8,615.7 405.2,617.9"/>
<polyline points="418.8,562.6 416.2,568.6 414.5,574.5"/>
<polyline points="412.0,570.3 410.3,578.3"/>
<polyline points="417.1,569.4 419.6,588.1 423.0,588.1 425.6,574.9"/>
<polyline points="411.1,587.3 408.6,598.4 407.7,605.2 413.7,605.2 418.8,588.1"/>
<polyline points="405.2,597.5 405.2,620.0"/>
<polyline points="407.7,605.2 406.9,620.0"/>
</g>
<g fill="none" stroke="#4b006e" stroke-width="2.50" stroke-linecap="round" stroke-linejoin="round" stroke-miterlimit="3">
<polyline points="336.9,603.4 336.9,609.4"/>
<polyline points="336.9,606.5 392.2,609.4"/>
<polyline points="220.2,622.1 388.8,625.2"/>
<polyline points="389.6,620.1 388.8,625.5"/>
<polyline points="226.7,628.9 226.2,636.6"/>
<polyline points="226.7,632.3 255.1,632.3"/>
<polyline points="255.1,632.3 255.1,646.0"/>
<polyline points="151.3,645.6 187.9,644.3"/>
<polyline points="187.9,644.3 187.9,651.9"/>
<polyline points="187.9,648.2 255.1,644.6"/>
<polyline points="255.6,639.2 394.7,634.9"/>
<polyline points="394.7,622.1 395.3,634.9 397.6,651.1 399.9,661.6 404.5,661.3 403.8,639.2"/>
<polyline points="403.3,617.0 403.3,639.2 406.7,639.2 406.2,600.0"/>
<polyline points="409.2,600.0 408.4,621.3"/>
<polyline points="385.4,649.7 387.1,673.2"/>
<polyline points="387.1,660.4 392.2,660.4 395.6,680.0 399.9,695.7 404.1,695.3 400.7,681.7 398.2,662.1"/>
<polyline points="389.6,700.5 391.3,713.2"/>
<polyline points="391.3,705.6 393.9,705.6 398.2,719.2 403.8,731.9 410.1,730.2 404.1,715.8 400.7,696.2"/>
<polyline points="403.8,731.9 409.2,746.4 414.7,759.2 382.0,775.4"/>
<polyline points="260.8,654.5 276.4,654.1"/>
<polyline points="256.0,661.0 259.1,668.1"/>
<polyline points="257.7,664.4 276.4,663.0"/>
<polyline points="276.4,654.1 276.4,663.3"/>
<polyline points="276.4,658.7 384.9,649.7"/>
<polyline points="216.8,678.7 310.1,668.4"/>
<polyline points="310.1,668.4 310.8,678.7"/>
<polyline points="310.5,673.2 351.3,668.1"/>
<polyline points="351.3,668.1 354.4,689.9"/>
<polyline points="353.0,678.7 387.1,673.2"/>
<polyline points="173.9,691.1 262.8,679.7"/>
<polyline points="262.8,679.7 264.5,690.2"/>
<polyline points="176.8,698.7 206.6,694.0"/>
<polyline points="184.5,705.6 207.5,701.8"/>
<polyline points="206.6,694.0 207.5,701.8"/>
<polyline points="207.5,698.4 264.5,689.9"/>
<polyline points="264.2,684.3 310.8,678.3"/>
<polyline points="288.3,695.0 340.3,686.0"/>
<polyline points="340.3,686.0 342.0,699.1"/>
<polyline points="341.5,693.3 354.4,689.9"/>
<polyline points="216.8,721.7 275.6,709.8"/>
<polyline points="274.7,703.0 275.6,710.3"/>
<polyline points="275.6,707.3 329.5,696.2"/>
<polyline points="329.5,696.2 331.2,707.3"/>
<polyline points="303.3,709.8 324.1,705.9"/>
<polyline points="297.7,717.5 324.9,710.7"/>
<polyline points="324.1,705.9 324.9,710.7"/>
<polyline points="324.9,708.6 331.2,706.9"/>
<polyline points="330.9,701.8 342.0,698.7"/>
<polyline points="302.8,722.2 389.6,700.5"/>
<polyline points="339.4,717.5 347.9,716.1"/>
<polyline points="335.2,725.1 348.8,720.9"/>
<polyline points="347.9,716.1 348.8,721.2"/>
<polyline points="348.8,718.8 385.0,708.1"/>
<polyline points="385.0,708.1 388.8,721.7"/>
<polyline points="345.9,727.4 383.3,716.1"/>
<polyline points="383.3,716.1 385.4,722.9"/>
<polyline points="379.4,767.7 382.8,776.2"/>
<polyline points="333.5,784.7 351.3,777.4"/>
<polyline points="351.3,777.4 354.4,784.7"/>
<polyline points="353.4,781.8 379.9,768.2"/>
<polyline points="261.1,826.4 331.8,793.2"/>
<polyline points="331.8,793.2 334.0,798.3"/>
<polyline points="333.5,794.9 354.4,784.7"/>
</g>
<g fill="none" stroke="#c0005f" stroke-width="3.90" stroke-linecap="square" stroke-linejoin="miter" stroke-miterlimit="3">
<polyline points="385.9,722.9 387.9,728.0 352.2,740.3"/>
<polyline points="349.6,733.7 354.7,747.3"/>
<polyline points="338.6,735.4 350.5,734.0"/>
<polyline points="338.6,732.8 340.6,742.2"/>
<polyline points="342.0,746.8 354.7,746.8"/>
<polyline points="343.7,747.3 345.4,754.1 341.1,758.3 348.3,759.2 346.2,766.0 336.9,766.9 340.3,772.8 307.9,785.6"/>
<polyline points="307.9,783.0 310.8,789.3"/>
<polyline points="309.6,787.3 290.4,797.8"/>
<polyline points="382.8,776.2 387.9,783.0 371.8,791.4"/>
</g>
<g fill="none" stroke="#c0005f" stroke-width="3.90" stroke-linecap="square" stroke-linejoin="miter" stroke-miterlimit="3">
<polyline points="388.7,781.5 362.2,796.5"/>
<polyline points="357.7,790.5 363.7,804.0"/>
<polyline points="340.6,799.0 358.7,791.5"/>
<polyline points="350.2,808.0 363.4,802.5"/>
<polyline points="347.6,801.5 354.7,813.0 346.6,810.0 354.2,820.1 346.6,819.1 354.7,826.6 347.6,826.1 354.7,834.1 344.6,833.1 352.2,842.1 335.1,850.1"/>
<polyline points="334.6,845.1 342.1,854.6"/>
<polyline points="341.1,853.6 314.1,871.6"/>
<polyline points="311.1,866.6 319.3,879.6"/>
<polyline points="297.6,876.3 312.1,867.3"/>
<polyline points="309.1,876.3 319.1,878.6"/>
<polyline points="310.1,876.6 317.1,886.2 309.6,887.7 315.1,891.2 303.1,899.7"/>
</g>
<g fill="none" stroke="#2b2a00" stroke-width="2.50" stroke-linecap="round" stroke-linejoin="round" stroke-miterlimit="3">
<polyline points="356.7,262.7 381.3,290.8"/>
<polyline points="371.9,269.3 386.3,285.8"/>
<polyline points="386.3,285.8 381.3,290.8"/>
<polyline points="383.8,288.3 417.7,328.4"/>
<polyline points="379.7,267.1 424.8,322.7"/>
<polyline points="424.8,322.7 417.7,328.4"/>
<polyline points="421.3,325.6 452.4,362.9"/>
<polyline points="357.6,285.3 421.0,353.6"/>
<polyline points="384.1,304.2 432.5,358.5"/>
<polyline points="372.8,312.2 403.3,344.5"/>
<polyline points="366.7,315.6 399.5,348.3"/>
<polyline points="403.3,344.5 399.5,348.3"/>
<polyline points="401.5,346.4 414.9,359.6"/>
<polyline points="421.0,353.6 414.9,359.6"/>
<polyline points="418.0,356.6 424.8,365.1"/>
<polyline points="432.5,358.5 424.8,365.1"/>
<polyline points="428.7,361.8 439.2,373.9"/>
<polyline points="452.4,362.9 439.2,373.9"/>
<polyline points="445.8,368.4 461.7,387.2"/>
<polyline points="398.2,279.2 474.6,376.5"/>
<polyline points="474.6,376.5 461.7,387.2"/>
<polyline points="468.3,381.7 481.6,398.2"/>
<polyline points="400.4,271.2 491.2,389.9"/>
<polyline points="491.2,389.9 481.6,398.2"/>
<polyline points="486.5,394.1 504.7,417.5"/>
<polyline points="373.1,356.9 368.1,361.8"/>
<polyline points="370.8,359.1 435.0,415.1"/>
<polyline points="381.3,356.3 441.5,413.7"/>
<polyline points="368.1,335.4 451.0,415.7"/>
<polyline points="371.9,329.9 472.1,430.2"/>
</g>
<g fill="none" stroke="#2b2a00" stroke-width="2.50" stroke-linecap="round" stroke-linejoin="round" stroke-miterlimit="3">
<polyline points="561.7,449.2 552.2,432.2"/>
<polyline points="525.7,450.2 539.2,440.2 552.2,432.2 566.2,423.7 580.2,416.7"/>
<polyline points="580.2,416.7 578.7,412.7"/>
<polyline points="563.2,419.2 577.7,412.7 592.3,405.7"/>
<polyline points="592.3,405.7 586.2,387.1"/>
<polyline points="577.2,388.1 591.5,383.1"/>
<polyline points="591.5,383.1 589.8,377.6"/>
<polyline points="584.2,376.6 593.3,374.1"/>
<polyline points="553.4,248.0 593.3,374.1"/>
<polyline points="563.2,313.2 584.2,376.6"/>
<polyline points="541.2,260.8 560.2,314.5"/>
<polyline points="542.9,246.6 565.7,312.0"/>
<polyline points="560.2,314.5 565.7,312.0"/>
<polyline points="519.0,217.5 567.0,347.1"/>
<polyline points="533.5,287.0 559.2,350.1"/>
<polyline points="558.7,350.1 567.2,347.1"/>
<polyline points="563.2,348.6 577.2,388.1"/>
<polyline points="563.2,419.2 559.7,411.2"/>
<polyline points="541.7,418.2 566.7,405.7"/>
<polyline points="534.7,420.2 547.7,414.2"/>
<polyline points="547.7,364.6 566.7,405.7"/>
<polyline points="502.5,262.6 549.4,363.6"/>
<polyline points="504.7,281.4 545.7,365.1"/>
<polyline points="545.7,365.6 549.7,363.6"/>
<polyline points="507.1,307.6 547.7,414.2"/>
<polyline points="528.7,410.7 534.7,420.2"/>
<polyline points="532.2,408.2 524.7,413.2"/>
<polyline points="528.0,400.8 532.6,407.7"/>
<polyline points="450.7,284.7 511.2,386.9"/>
<polyline points="445.5,264.3 525.4,401.7"/>
<polyline points="525.7,402.2 530.2,400.2"/>
<polyline points="507.3,341.9 530.5,399.8"/>
<polyline points="504.1,343.6 510.6,340.1"/>
<polyline points="490.4,321.2 504.1,343.6"/>
<polyline points="483.8,293.0 510.6,340.1"/>
<polyline points="488.6,322.5 492.1,320.0"/>
<polyline points="477.3,305.5 488.6,322.5"/>
<polyline points="480.5,299.6 492.1,320.0"/>
<polyline points="508.1,388.9 524.5,413.4"/>
<polyline points="505.6,390.6 510.6,387.1"/>
<polyline points="442.4,283.6 497.4,375.7"/>
<polyline points="495.1,376.9 505.6,390.6"/>
<polyline points="494.6,377.6 497.1,375.9"/>
<polyline points="444.6,298.5 492.9,377.5"/>
<polyline points="440.5,303.5 518.7,419.7"/>
<polyline points="505.1,417.2 477.6,442.2"/>
<polyline points="469.6,434.2 477.6,442.2"/>
<polyline points="465.6,437.2 472.1,430.2"/>
<polyline points="447.0,419.7 465.6,437.2"/>
<polyline points="451.0,415.7 443.0,423.7"/>
<polyline points="439.5,419.7 443.0,423.7"/>
<polyline points="441.5,413.7 433.0,424.2"/>
<polyline points="435.0,415.2 433.5,418.2"/>
<polyline points="508.1,428.7 525.7,450.2"/>
<polyline points="497.6,437.2 519.1,419.7"/>
<polyline points="491.6,429.7 497.6,437.2"/>
</g>
<g fill="none" stroke="#2b2a00" stroke-width="2.50" stroke-linecap="round" stroke-linejoin="round" stroke-miterlimit="3">
<polyline points="500.1,241.9 503.0,248.4"/>
<polyline points="506.1,238.9 508.9,245.9"/>
<polyline points="503.0,248.4 508.9,245.9"/>
<polyline points="506.5,247.1 510.5,257.1"/>
<polyline points="514.9,242.9 518.9,252.4"/>
<polyline points="510.5,257.1 518.9,252.4"/>
<polyline points="514.9,254.7 528.5,288.9"/>
<polyline points="530.6,266.3 537.7,284.8"/>
<polyline points="528.5,288.9 537.7,284.8"/>
<polyline points="546.4,236.8 549.9,248.7"/>
<polyline points="555.2,244.2 556.2,247.1"/>
<polyline points="549.9,248.7 556.2,247.1"/>
<polyline points="486.0,271.4 501.9,301.7"/>
<polyline points="482.3,277.7 497.0,304.8"/>
<polyline points="497.0,304.8 501.9,302.0"/>
<polyline points="499.4,303.6 503.0,309.7"/>
<polyline points="491.4,267.9 510.3,304.8"/>
<polyline points="503.0,309.7 510.3,305.2"/>
</g>
<g fill="none" stroke="#8f2a00" stroke-width="4.20" stroke-linecap="square" stroke-linejoin="miter" stroke-miterlimit="3">
<polyline points="267.9,352.0 314.4,385.2"/>
<polyline points="311.6,389.3 318.4,384.7"/>
<polyline points="315.0,386.9 334.3,402.6"/>
<polyline points="337.7,393.2 333.9,402.9"/>
<polyline points="336.0,397.8 346.2,405.5 350.5,396.6 353.0,403.5 358.1,394.1 360.7,400.9 365.8,390.7 368.3,397.5 373.4,387.3 376.0,392.4 381.9,382.2"/>
<polyline points="372.2,373.3 384.8,381.7"/>
<polyline points="381.1,383.0 427.1,426.1 431.8,419.6"/>
</g>
<g fill="none" stroke="#003c1e" stroke-width="2.50" stroke-linecap="round" stroke-linejoin="round" stroke-miterlimit="3">
<polyline points="648.8,143.1 651.0,195.5"/>
<polyline points="656.5,151.4 657.6,195.5"/>
<polyline points="651.0,195.5 657.8,195.5"/>
<polyline points="654.3,195.5 655.0,205.1"/>
<polyline points="663.9,144.2 664.6,205.1"/>
<polyline points="655.0,205.1 665.0,205.1"/>
<polyline points="660.0,205.1 660.0,220.0"/>
<polyline points="671.3,142.9 671.3,220.0"/>
<polyline points="660.0,220.0 671.6,220.0"/>
<polyline points="665.7,220.0 666.8,270.0"/>
<polyline points="644.6,195.5 648.4,255.0"/>
<polyline points="634.4,256.6 648.8,255.0"/>
<polyline points="634.7,256.6 636.0,270.0"/>
<polyline points="678.2,187.2 678.2,198.2"/>
<polyline points="684.8,182.8 683.7,198.2"/>
<polyline points="677.6,198.2 684.2,198.2"/>
<polyline points="680.7,198.2 680.7,232.9"/>
<polyline points="700.2,166.8 698.6,179.5"/>
<polyline points="691.4,180.0 699.1,179.5"/>
<polyline points="695.3,179.7 691.9,232.9"/>
<polyline points="679.6,232.9 692.8,232.9"/>
<polyline points="686.4,232.9 684.9,270.0"/>
<polyline points="707.6,154.7 708.3,158.6 715.6,159.1"/>
<polyline points="711.2,158.8 701.6,270.0"/>
<polyline points="719.7,177.5 710.3,270.0"/>
<polyline points="725.9,185.9 714.6,270.0"/>
<polyline points="731.6,239.9 729.2,254.4"/>
<polyline points="722.8,254.2 729.4,254.4"/>
<polyline points="726.1,254.4 723.8,270.0"/>
</g>
<g fill="none" stroke="#6e3510" stroke-width="4.40" stroke-linecap="square" stroke-linejoin="miter" stroke-miterlimit="3">
<polyline points="552.6,184.4 557.5,207.6"/>
<polyline points="628.3,164.3 631.4,194.9"/>
<polyline points="624.7,194.4 632.7,194.0"/>
<polyline points="626.9,194.9 628.6,202.6"/>
<polyline points="626.9,202.8 638.2,202.1"/>
<polyline points="633.6,202.1 634.1,209.5"/>
<polyline points="615.9,211.4 622.0,258.3 634.7,256.3"/>
</g>
<g fill="none" stroke="#6e3510" stroke-width="7.00" stroke-linecap="square" stroke-linejoin="miter" stroke-miterlimit="3">
<polyline points="551.8,207.9 559.7,208.1 566.4,211.2 573.5,213.4 580.1,215.8 596.1,213.6 615.9,211.2 636.0,208.8"/>
</g>
<g fill="none" stroke="#6e3510" stroke-width="4.40" stroke-linecap="square" stroke-linejoin="miter" stroke-miterlimit="3">
<polyline points="592.2,205.4 592.8,213.6"/>
<polyline points="612.1,201.0 612.4,212.0"/>
<polyline points="618.1,200.2 618.5,210.9"/>
<polyline points="600.5,205.4 601.1,213.1"/>
</g>
<g fill="none" stroke="#003c1e" stroke-width="2.50" stroke-linecap="round" stroke-linejoin="round" stroke-miterlimit="3">
<polyline points="635.7,270.0 644.6,355.4"/>
<polyline points="644.6,355.4 674.9,354.0"/>
<polyline points="666.5,270.0 667.0,318.5"/>
<polyline points="685.2,270.0 683.3,318.5"/>
<polyline points="666.5,318.5 683.8,318.5"/>
<polyline points="675.1,318.5 674.9,354.0"/>
<polyline points="660.0,354.9 660.4,375.0"/>
<polyline points="660.4,375.0 699.2,376.8"/>
<polyline points="702.0,270.0 697.8,314.8"/>
<polyline points="709.9,270.0 705.2,315.7"/>
<polyline points="697.8,314.8 705.7,315.9"/>
<polyline points="701.5,315.5 696.4,369.4"/>
<polyline points="714.7,270.0 703.4,370.8"/>
<polyline points="695.9,369.6 703.6,370.8"/>
<polyline points="699.9,370.3 699.2,376.8"/>
<polyline points="724.4,270.0 707.1,389.9"/>
<polyline points="679.4,376.4 679.1,387.7"/>
<polyline points="679.1,387.7 707.1,389.9"/>
<polyline points="693.1,389.0 690.3,418.8"/>
</g>
<g fill="none" stroke="#b40000" stroke-width="4.70" stroke-linecap="square" stroke-linejoin="miter" stroke-miterlimit="3">
<polyline points="874.3,104.6 838.5,190.2"/>
<polyline points="860.4,112.3 871.9,117.2"/>
<polyline points="837.2,188.5 848.5,192.8"/>
<polyline points="843.1,191.5 836.1,210.1"/>
<polyline points="833.2,210.1 846.5,215.4"/>
<polyline points="839.8,213.4 836.5,226.0"/>
<polyline points="833.9,225.4 847.1,230.7"/>
<polyline points="839.8,228.7 837.8,236.0"/>
<polyline points="837.2,236.0 845.1,239.9 841.2,243.9 850.4,246.6 846.5,249.2 854.4,251.2 851.8,254.5 859.7,253.9"/>
<polyline points="851.8,254.5 846.5,262.5 858.4,267.8 864.0,251.2"/>
<polyline points="867.7,249.9 859.7,268.5"/>
<polyline points="852.4,265.2 836.8,300.1"/>
<polyline points="747.2,175.6 762.2,178.9"/>
<polyline points="755.6,178.2 754.9,188.9"/>
<polyline points="754.9,188.9 772.4,188.9"/>
<polyline points="766.8,181.8 775.1,182.5"/>
<polyline points="770.2,182.2 768.8,189.5"/>
<polyline points="760.9,188.9 760.9,198.1"/>
<polyline points="760.2,198.1 766.8,200.1 767.5,204.1 773.5,205.4 774.1,209.4 780.1,210.1 780.8,214.1 788.1,214.7"/>
<polyline points="781.4,216.1 779.5,226.7 797.4,232.6 802.0,215.4"/>
<polyline points="807.3,217.7 783.8,297.3"/>
<polyline points="787.4,229.3 768.8,293.0"/>
</g>
<g fill="none" stroke="#b40000" stroke-width="8.00" stroke-linecap="square" stroke-linejoin="miter" stroke-miterlimit="3">
<polyline points="768.2,202.8 778.8,211.4 790.7,214.1 798.7,215.4"/>
<polyline points="839.8,237.3 847.8,245.3 857.7,251.2"/>
</g>
<g fill="none" stroke="#3d0505" stroke-width="2.62" stroke-linecap="round" stroke-linejoin="round" stroke-miterlimit="3">
<polyline points="803.3,254.5 787.4,300.1"/>
</g>
<g fill="none" stroke="#b40000" stroke-width="4.70" stroke-linecap="square" stroke-linejoin="miter" stroke-miterlimit="3">
<polyline points="774.6,295.6 746.7,392.0"/>
<polyline points="768.4,293.1 784.0,297.6"/>
<polyline points="744.5,389.7 750.9,392.7"/>
<polyline points="845.9,280.0 794.1,384.2"/>
<polyline points="790.7,383.6 797.1,386.5"/>
</g>
<g fill="none" stroke="#3d0505" stroke-width="2.62" stroke-linecap="round" stroke-linejoin="round" stroke-miterlimit="3">
<polyline points="803.3,254.5 754.0,393.6"/>
<polyline points="746.7,392.0 754.0,394.2"/>
<polyline points="748.4,392.5 743.9,409.2"/>
<polyline points="743.9,409.2 777.9,423.7"/>
<polyline points="795.7,385.8 777.9,423.7"/>
<polyline points="862.6,267.3 800.7,387.5"/>
<polyline points="795.7,385.3 801.3,387.8"/>
<polyline points="759.5,416.5 754.0,432.1"/>
<polyline points="754.0,432.1 790.7,451.5"/>
<polyline points="771.8,441.5 765.1,454.9"/>
<polyline points="888.2,225.0 848.1,311.7"/>
<polyline points="894.4,227.8 853.1,314.8"/>
<polyline points="847.5,311.7 853.1,314.8"/>
<polyline points="850.3,313.4 817.4,371.9"/>
<polyline points="894.0,243.7 824.1,375.2"/>
<polyline points="817.4,371.9 824.1,375.2"/>
<polyline points="820.8,373.6 814.7,383.6"/>
<polyline points="878.5,281.8 821.9,387.5"/>
<polyline points="814.1,383.6 821.9,387.5"/>
<polyline points="818.0,385.8 794.6,423.7"/>
<polyline points="894.0,269.2 831.4,380.8"/>
<polyline points="950.3,193.6 883.7,319.0"/>
<polyline points="965.3,185.0 888.2,322.9"/>
<polyline points="883.7,319.0 888.2,322.9"/>
<polyline points="886.0,321.2 834.2,383.0"/>
<polyline points="831.4,380.8 834.2,383.0"/>
<polyline points="832.7,381.9 803.5,427.3"/>
<polyline points="794.6,423.7 803.5,427.6"/>
<polyline points="799.1,425.9 789.0,442.1"/>
<polyline points="921.6,273.5 804.1,438.2"/>
<polyline points="926.1,279.3 806.9,439.5"/>
<polyline points="956.6,238.9 809.6,441.0"/>
<polyline points="804.1,438.2 809.6,441.0"/>
<polyline points="806.9,439.5 801.3,447.7"/>
<polyline points="789.0,442.1 801.3,448.2"/>
<polyline points="793.5,444.9 790.7,451.5"/>
</g>
<g fill="none" stroke="#5e2d00" stroke-width="2.62" stroke-linecap="round" stroke-linejoin="round" stroke-miterlimit="3">
<polyline points="846.1,458.5 865.7,439.6"/>
<polyline points="862.3,433.5 871.1,444.3"/>
<polyline points="863.0,426.0 873.1,434.2"/>
<polyline points="864.3,414.5 876.5,423.3"/>
<polyline points="870.4,393.6 883.9,406.4"/>
<polyline points="888.7,397.6 892.1,401.7"/>
<polyline points="877.2,372.6 890.7,383.4"/>
<polyline points="890.0,377.4 894.1,382.8"/>
<polyline points="879.2,363.2 886.6,368.6"/>
<polyline points="894.8,367.9 898.1,371.3"/>
<polyline points="901.5,328.7 908.3,334.1"/>
<polyline points="909.6,313.1 915.0,316.5"/>
<polyline points="977.9,340.9 981.3,345.6"/>
<polyline points="862.3,433.5 867.0,429.4"/>
<polyline points="863.0,426.0 869.7,419.3"/>
<polyline points="864.3,414.5 876.5,400.3"/>
<polyline points="883.9,406.4 890.3,399.7"/>
<polyline points="870.4,393.6 883.3,378.0"/>
<polyline points="890.7,383.4 892.1,380.1"/>
<polyline points="877.2,372.6 882.6,366.1"/>
<polyline points="886.0,380.1 896.4,369.7"/>
<polyline points="879.2,363.2 904.9,331.4"/>
<polyline points="901.5,328.7 912.3,314.9"/>
<polyline points="909.6,313.1 919.1,301.0"/>
<polyline points="915.0,316.5 930.6,296.2"/>
<polyline points="908.3,334.1 933.3,303.0"/>
<polyline points="886.6,368.6 931.3,315.8"/>
<polyline points="894.8,367.9 936.0,319.9"/>
<polyline points="898.1,371.3 947.5,316.5"/>
<polyline points="894.1,382.8 955.6,317.2"/>
<polyline points="888.7,397.6 981.3,299.6"/>
<polyline points="892.1,401.7 980.6,309.8"/>
<polyline points="876.5,423.3 942.8,358.0"/>
<polyline points="873.1,434.2 980.6,329.1"/>
<polyline points="871.1,444.3 979.3,342.9"/>
<polyline points="977.9,340.9 1021.2,300.3"/>
<polyline points="981.3,345.6 1032.7,298.9"/>
</g>
<g fill="none" stroke="#0a4a63" stroke-width="2.62" stroke-linecap="round" stroke-linejoin="round" stroke-miterlimit="3">
<polyline points="854.6,468.1 1031.7,316.1"/>
<polyline points="842.6,489.6 1068.5,303.9"/>
<polyline points="1028.6,313.1 1034.7,319.2"/>
<polyline points="1028.6,313.1 1075.9,271.9"/>
<polyline points="1034.7,319.2 1082.0,277.3"/>
<polyline points="1065.8,301.0 1071.2,307.1"/>
<polyline points="1065.8,301.0 1077.3,292.2"/>
<polyline points="1071.2,307.1 1082.0,298.5"/>
</g>
<g fill="none" stroke="#00005c" stroke-width="2.62" stroke-linecap="round" stroke-linejoin="round" stroke-miterlimit="3">
<polyline points="820.9,541.6 828.4,536.8"/>
<polyline points="826.1,531.8 831.9,541.6"/>
<polyline points="826.1,531.8 838.8,523.8"/>
<polyline points="836.5,519.2 841.7,528.4"/>
<polyline points="841.7,528.4 854.9,520.9"/>
<polyline points="853.8,519.2 856.1,522.3"/>
<polyline points="854.3,519.7 971.2,455.3"/>
<polyline points="856.1,522.0 982.2,455.3"/>
<polyline points="836.5,519.2 842.2,514.6"/>
<polyline points="839.4,510.5 845.7,518.6"/>
<polyline points="845.7,518.6 982.2,442.6"/>
<polyline points="839.4,510.5 844.6,508.5"/>
<polyline points="841.1,504.2 848.0,512.8"/>
<polyline points="848.0,512.8 871.0,498.2"/>
<polyline points="869.3,495.6 872.8,500.2"/>
<polyline points="869.3,495.6 949.4,450.6"/>
<polyline points="872.8,500.2 945.3,458.1"/>
<polyline points="841.1,504.2 864.4,486.9"/>
<polyline points="862.4,483.5 866.4,490.4"/>
<polyline points="866.4,490.4 958.0,435.7"/>
<polyline points="955.7,433.4 959.7,438.6"/>
<polyline points="862.4,483.5 881.4,470.6"/>
<polyline points="879.7,467.3 883.1,473.7"/>
<polyline points="883.1,473.7 991.4,402.3"/>
<polyline points="879.7,467.3 889.7,460.7"/>
<polyline points="888.3,458.7 891.2,462.7"/>
<polyline points="888.3,458.7 948.2,412.6"/>
<polyline points="891.2,462.7 952.8,416.1"/>
<polyline points="890.6,464.5 948.8,425.9"/>
<polyline points="831.9,541.6 835.9,539.3"/>
<polyline points="835.9,539.3 1017.9,442.6"/>
<polyline points="834.8,537.6 853.8,527.8"/>
</g>
<g fill="none" stroke="#4a0000" stroke-width="2.62" stroke-linecap="round" stroke-linejoin="round" stroke-miterlimit="3">
<polyline points="839.0,610.2 866.2,603.6"/>
<polyline points="864.9,583.7 866.2,594.9 868.2,617.5"/>
<polyline points="864.9,583.7 884.1,579.0"/>
<polyline points="882.1,567.1 884.8,577.7 889.4,591.6"/>
<polyline points="882.1,567.1 908.6,558.9"/>
<polyline points="906.7,543.9 909.3,556.5 915.3,573.1"/>
<polyline points="906.7,543.9 932.5,534.6"/>
<polyline points="931.2,531.9 934.5,540.5"/>
<polyline points="931.2,531.9 945.8,525.9"/>
<polyline points="944.5,520.6 949.8,531.3"/>
<polyline points="944.5,520.6 990.3,502.1"/>
<polyline points="988.9,493.4 996.2,508.7 1003.5,506.4"/>
<polyline points="988.9,493.4 994.2,490.8"/>
<polyline points="989.6,463.6 1000.9,501.4"/>
<polyline points="993.6,489.5 1000.9,490.8"/>
<polyline points="997.6,484.8 1001.5,483.5"/>
<polyline points="949.8,531.3 1010.2,509.4"/>
<polyline points="934.5,540.5 1026.1,510.0"/>
<polyline points="915.3,573.1 930.5,568.4"/>
<polyline points="928.6,563.1 932.5,575.7"/>
<polyline points="928.6,563.1 964.4,553.8"/>
<polyline points="963.7,545.8 965.7,551.2 967.7,560.4"/>
<polyline points="965.7,541.2 973.0,539.2"/>
<polyline points="973.0,535.2 975.0,541.9"/>
<polyline points="973.0,535.2 1022.1,518.6"/>
<polyline points="1022.1,516.7 1024.1,522.6"/>
<polyline points="1022.8,517.3 1032.1,514.0"/>
<polyline points="1024.1,522.6 1031.4,520.6"/>
<polyline points="975.0,541.9 1031.4,526.6"/>
<polyline points="967.7,547.8 1038.0,531.3"/>
<polyline points="967.7,551.2 995.6,547.2"/>
<polyline points="994.9,547.2 996.2,552.5"/>
<polyline points="994.9,547.2 1036.7,536.6"/>
<polyline points="996.2,552.5 1045.3,540.5"/>
<polyline points="967.7,560.4 975.7,557.8"/>
<polyline points="974.3,555.1 976.3,561.8"/>
<polyline points="974.3,555.1 1022.1,551.8"/>
<polyline points="976.3,561.8 1046.0,553.1"/>
<polyline points="932.5,575.7 1053.3,557.8"/>
<polyline points="889.4,591.6 903.3,589.6"/>
<polyline points="902.7,586.3 904.0,593.0"/>
<polyline points="902.7,587.0 906.0,585.7"/>
<polyline points="906.0,584.3 907.3,589.0"/>
<polyline points="906.0,584.3 1062.6,561.8"/>
<polyline points="907.3,588.3 1034.0,573.1"/>
<polyline points="904.0,592.3 1052.0,576.1"/>
<polyline points="867.5,603.6 951.1,595.6"/>
<polyline points="950.4,591.6 951.8,598.9"/>
<polyline points="950.4,591.6 996.2,586.3"/>
<polyline points="995.6,583.7 996.6,589.0"/>
<polyline points="995.6,583.7 1049.3,582.3"/>
<polyline points="996.6,589.0 1048.0,588.3"/>
<polyline points="951.8,598.9 1018.1,593.6"/>
<polyline points="867.5,604.2 1028.1,602.2"/>
<polyline points="1027.4,597.6 1028.7,607.6"/>
<polyline points="1027.7,597.9 1030.1,596.3"/>
<polyline points="1029.4,595.2 1031.4,600.3"/>
<polyline points="1030.1,595.6 1047.3,594.3"/>
<polyline points="1031.4,600.0 1051.3,599.6"/>
<polyline points="1028.7,607.2 1048.0,605.8"/>
<polyline points="868.2,617.5 888.1,616.2"/>
<polyline points="887.4,612.9 888.7,620.8"/>
<polyline points="887.4,612.9 1052.0,614.6"/>
<polyline points="1052.0,611.5 1052.6,617.5"/>
<polyline points="1052.0,611.5 1085.1,609.5"/>
<polyline points="1052.6,617.2 1068.5,616.8"/>
<polyline points="888.7,620.4 1007.5,618.6"/>
</g>
<g fill="none" stroke="#000000" stroke-width="2.62" stroke-linecap="round" stroke-linejoin="round" stroke-miterlimit="3">
<polyline points="816.2,644.1 823.8,644.9"/>
<polyline points="824.7,638.1 823.0,652.6"/>
<polyline points="824.7,638.1 835.8,638.1"/>
<polyline points="836.6,631.3 835.4,644.9"/>
<polyline points="836.6,631.3 938.8,634.7"/>
<polyline points="939.6,629.6 938.8,639.8"/>
<polyline points="939.6,629.6 948.1,628.7"/>
<polyline points="949.0,626.2 948.5,633.0"/>
<polyline points="949.0,626.2 968.6,625.3"/>
<polyline points="968.6,623.6 968.6,628.7"/>
<polyline points="968.6,623.6 1035.0,622.8"/>
<polyline points="968.6,628.7 1034.1,629.1"/>
<polyline points="948.5,633.0 1032.4,634.7"/>
<polyline points="938.8,639.8 994.9,641.5"/>
<polyline points="994.9,638.9 994.9,644.1"/>
<polyline points="994.9,638.9 1025.6,640.3"/>
<polyline points="994.9,644.1 1036.7,646.3"/>
<polyline points="835.4,644.9 902.2,650.9"/>
<polyline points="903.0,647.5 901.8,654.6"/>
<polyline points="903.0,647.5 996.6,655.1"/>
<polyline points="997.2,650.9 996.1,659.4"/>
<polyline points="997.2,650.9 1008.6,650.5"/>
<polyline points="1008.1,648.8 1008.1,656.0"/>
<polyline points="996.1,659.4 1011.1,660.7"/>
<polyline points="901.8,654.6 1000.6,664.8"/>
<polyline points="823.0,652.6 884.3,662.8"/>
<polyline points="885.1,659.4 884.3,665.3"/>
<polyline points="885.1,659.4 939.6,666.2"/>
<polyline points="940.5,663.6 939.3,670.4"/>
<polyline points="940.5,663.6 962.6,667.9"/>
<polyline points="963.4,665.3 962.6,669.6"/>
<polyline points="963.4,665.3 1050.3,676.1"/>
<polyline points="962.6,669.6 1045.2,681.5"/>
<polyline points="939.3,670.4 1041.8,687.0"/>
<polyline points="884.3,665.3 1047.7,693.8"/>
<polyline points="773.6,670.1 782.6,673.3"/>
<polyline points="786.5,665.5 780.1,681.2"/>
<polyline points="786.5,665.5 802.2,670.1"/>
<polyline points="802.2,670.1 806.3,667.9"/>
<polyline points="780.1,681.2 798.3,690.2"/>
<polyline points="800.2,687.6 796.9,695.5"/>
<polyline points="800.2,687.6 810.6,690.2"/>
<polyline points="796.9,695.5 808.0,700.7"/>
<polyline points="807.7,661.1 805.1,673.8"/>
<polyline points="807.7,661.1 863.8,674.7"/>
<polyline points="865.5,669.6 863.8,679.0"/>
<polyline points="865.5,669.6 972.8,692.6"/>
<polyline points="973.3,688.3 972.0,697.7"/>
<polyline points="973.3,688.3 1055.4,705.3"/>
<polyline points="1056.2,701.6 1055.4,708.4"/>
<polyline points="1056.2,701.6 1095.9,708.7"/>
<polyline points="1055.4,708.4 1086.9,713.9"/>
<polyline points="972.0,697.7 1081.8,722.4"/>
<polyline points="1082.3,719.8 1081.3,726.6"/>
<polyline points="1082.3,719.8 1102.2,724.1"/>
<polyline points="1081.3,726.6 1105.6,731.7"/>
<polyline points="863.8,679.0 881.7,683.2"/>
<polyline points="882.1,681.8 881.4,686.3"/>
<polyline points="882.1,682.4 1083.5,732.9"/>
<polyline points="881.4,685.8 1050.3,736.8"/>
<polyline points="805.1,673.8 838.3,684.1"/>
<polyline points="839.2,680.7 837.8,686.3"/>
<polyline points="839.2,680.7 892.8,696.8"/>
<polyline points="893.3,694.3 891.9,700.2"/>
<polyline points="893.3,694.3 947.8,711.3"/>
<polyline points="948.1,708.4 947.3,713.5"/>
<polyline points="948.1,708.4 1103.1,745.4"/>
<polyline points="947.3,713.5 1086.9,755.1"/>
<polyline points="891.9,700.2 1026.4,739.4"/>
<polyline points="811.9,688.7 809.4,696.0"/>
<polyline points="811.9,690.0 909.0,730.9"/>
<polyline points="910.7,728.3 908.1,736.8"/>
<polyline points="910.7,728.3 934.5,736.8"/>
<polyline points="935.4,735.1 934.2,741.1"/>
<polyline points="935.4,735.1 953.2,741.1"/>
<polyline points="954.1,739.4 953.2,744.5"/>
<polyline points="954.1,739.4 1012.8,752.2"/>
<polyline points="1013.2,750.0 1012.0,756.1"/>
<polyline points="1013.2,750.0 1128.6,775.1"/>
<polyline points="1012.0,756.1 1103.9,774.8"/>
<polyline points="953.2,744.5 1042.6,773.4"/>
<polyline points="934.2,741.1 1023.0,771.7"/>
<polyline points="908.1,736.8 950.7,755.6"/>
<polyline points="951.2,753.9 949.8,758.1"/>
<polyline points="951.2,753.9 1002.6,770.0"/>
<polyline points="949.8,758.1 1021.3,784.0"/>
<polyline points="809.4,695.1 1097.1,779.9"/>
<polyline points="808.5,698.5 1099.7,787.9"/>
<polyline points="807.7,701.1 1009.4,785.0"/>
<polyline points="806.8,702.8 1035.8,804.1"/>
<polyline points="807.7,704.5 1024.7,809.2"/>
<polyline points="1027.3,806.1 1024.4,813.5"/>
<polyline points="808.5,706.2 1013.7,813.5"/>
<polyline points="810.2,708.7 1024.7,827.1"/>
</g>
<g fill="none" stroke="#000000" stroke-width="2.50" stroke-linecap="round" stroke-linejoin="round" stroke-miterlimit="3">
<polyline points="763.7,688.7 805.1,712.2"/>
<polyline points="805.4,710.5 803.1,715.2"/>
<polyline points="805.1,712.2 845.1,736.0"/>
<polyline points="845.1,735.1 843.4,740.8"/>
<polyline points="845.6,735.6 859.6,739.4"/>
<polyline points="859.6,739.4 951.5,791.3"/>
<polyline points="859.9,741.4 939.6,789.6"/>
<polyline points="843.9,740.2 934.5,792.2"/>
<polyline points="803.7,714.2 918.3,793.0"/>
<polyline points="762.2,693.8 779.6,704.0"/>
<polyline points="779.6,704.0 951.5,808.9"/>
<polyline points="778.7,704.7 939.6,813.5"/>
<polyline points="777.9,705.3 941.3,821.1"/>
<polyline points="781.3,703.3 803.4,714.2"/>
</g>
<g fill="none" stroke="#000000" stroke-width="2.88" stroke-linecap="round" stroke-linejoin="round" stroke-miterlimit="3">
<polyline points="817.5,644.4 824.9,644.8"/>
<polyline points="774.1,670.4 782.9,674.4"/>
<polyline points="716.0,658.4 763.4,688.8"/>
<polyline points="763.4,686.0 760.4,692.5"/>
<polyline points="809.9,509.0 836.5,481.1"/>
<polyline points="834.5,477.1 842.6,487.1"/>
<polyline points="834.5,477.1 850.6,463.1"/>
<polyline points="846.6,459.1 854.6,468.1"/>
</g>
<g fill="none" stroke="#c0005f" stroke-width="6.50" stroke-linecap="square" stroke-linejoin="miter" stroke-miterlimit="3">
<polyline points="344.9,748.5 344.9,758.3 342.5,767.7 339.4,771.6"/>
</g>
<g fill="none" stroke="#c0005f" stroke-width="6.50" stroke-linecap="square" stroke-linejoin="miter" stroke-miterlimit="3">
<polyline points="350.2,804.5 350.7,813.0 350.7,823.1 350.2,832.1 349.1,838.6"/>
<polyline points="312.3,878.1 314.1,885.2 312.6,889.7"/>
</g>
<g fill="none" stroke="#8f2a00" stroke-width="6.00" stroke-linecap="square" stroke-linejoin="miter" stroke-miterlimit="3">
<polyline points="346.2,402.9 360.7,397.5 376.0,388.6 380.8,383.5"/>
</g>
<text transform="translate(100.9,544.2) rotate(-83.5)" text-anchor="middle" font-size="54.5" font-weight="bold" fill="#bf00ff" stroke="#bf00ff" stroke-width="1.5" stroke-linejoin="miter">A</text>
<text transform="translate(141.8,548.7) rotate(-85.5)" text-anchor="middle" font-size="36.5" font-weight="bold" fill="#bf00ff" stroke="#bf00ff" stroke-width="1" stroke-linejoin="miter">C-28</text>
<text transform="translate(318.5,220.8) rotate(-30.2)" text-anchor="middle" font-size="51" font-weight="bold" fill="#646400" stroke="#646400" stroke-width="1.5" stroke-linejoin="miter">E</text>
<text transform="translate(339.5,255.2) rotate(-30.5)" text-anchor="middle" font-size="38" font-weight="bold" fill="#646400" stroke="#646400" stroke-width="1" stroke-linejoin="miter">C-24</text>
<text transform="translate(590.4,104.9) rotate(-20.0)" text-anchor="middle" font-size="53" font-weight="bold" fill="#008823" stroke="#008823" stroke-width="1.5" stroke-linejoin="miter">S</text>
<text transform="translate(610.3,139.0) rotate(-26.2)" text-anchor="middle" font-size="36.6" font-weight="bold" fill="#008823" stroke="#008823" stroke-width="1" stroke-linejoin="miter">C-6α</text>
<text transform="translate(819.3,119.2) rotate(-30.2)" text-anchor="middle" font-size="37.3" font-weight="bold" fill="#b30000" stroke="#b30000" stroke-width="1" stroke-linejoin="miter">C-16α</text>
<text transform="translate(880.8,84.9) rotate(17.0)" text-anchor="middle" font-size="52.7" font-weight="bold" fill="#b30000" stroke="#b30000" stroke-width="1.5" stroke-linejoin="miter">Y</text>
<text transform="translate(933.4,134.7) rotate(43.0)" text-anchor="middle" font-size="37.3" font-weight="bold" fill="#b30000" stroke="#b30000" stroke-width="1" stroke-linejoin="miter">C-12β</text>
<text transform="translate(1016.4,245.4) rotate(8.0)" text-anchor="middle" font-size="54" font-weight="bold" fill="#ff7514" stroke="#ff7514" stroke-width="1.5" stroke-linejoin="miter">C</text>
<text transform="translate(999.6,285.2) rotate(19.4)" text-anchor="middle" font-size="37" font-weight="bold" fill="#ff7514" stroke="#ff7514" stroke-width="1" stroke-linejoin="miter">C-2α</text>
<text transform="translate(1096.0,263.6) rotate(56.3)" text-anchor="middle" font-size="52.9" font-weight="bold" fill="#00a8ff" stroke="#00a8ff" stroke-width="1.5" stroke-linejoin="miter">H</text>
<text transform="translate(1019.2,409.1) rotate(60.8)" text-anchor="middle" font-size="54" font-weight="bold" fill="#0000f0" stroke="#0000f0" stroke-width="1.5" stroke-linejoin="miter">M</text>
<text transform="translate(1094.1,498.5) rotate(62.8)" text-anchor="middle" font-size="53.8" font-weight="bold" fill="#ff0800" stroke="#ff0800" stroke-width="1.5" stroke-linejoin="miter">D</text>
<text transform="translate(1055.8,518.5) rotate(64.5)" text-anchor="middle" font-size="37.6" font-weight="bold" fill="#ff0800" stroke="#ff0800" stroke-width="1" stroke-linejoin="miter">C-16α</text>
<text transform="translate(1125.9,705.7) rotate(50.5)" text-anchor="middle" font-size="19.8" font-weight="bold" fill="#808080" stroke="#808080" stroke-width="0.35" stroke-linejoin="miter">Ancient subgroups</text>
<text transform="translate(943.6,840.3) rotate(7.0)" text-anchor="middle" font-size="19.8" font-weight="bold" fill="#000000" stroke="#000000" stroke-width="0.35" stroke-linejoin="miter">Outgroup</text>
<line x1="451.5" x2="502.5" y1="787.2" y2="787.2" stroke="#000" stroke-width="1.6"/>
<text x="478.5" y="810.5" font-size="19" text-anchor="middle">0.08</text>
</g>
</svg>
</body></html>
